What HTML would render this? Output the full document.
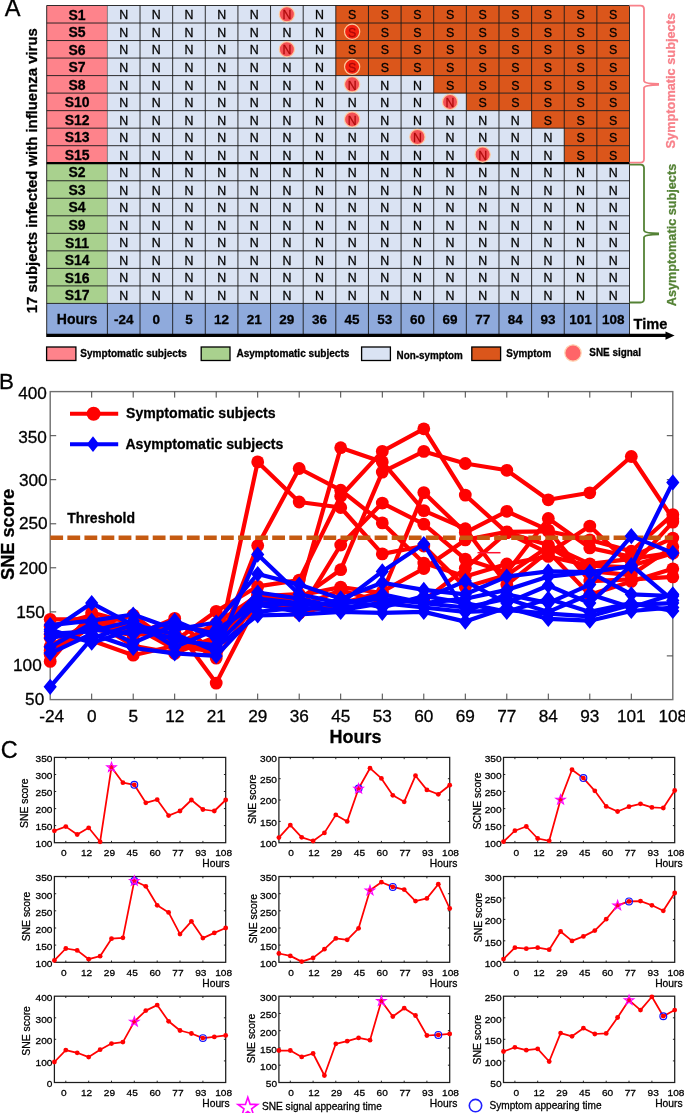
<!DOCTYPE html>
<html><head><meta charset="utf-8"><title>Figure</title>
<style>html,body{margin:0;padding:0;background:#fff}svg{display:block;will-change:transform;opacity:0.9999}text{font-family:"Liberation Sans",sans-serif;fill:#000;stroke:#000;stroke-width:0.28px}</style>
</head><body>
<svg width="685" height="1113" viewBox="0 0 685 1113">
<rect width="685" height="1113" fill="#fff"/>
<g id="panelA"><rect x="46.7" y="5.5" width="60.70" height="157.72" fill="#FE838B"/>
<rect x="46.7" y="163.22" width="60.70" height="140.20" fill="#A9D18E"/>
<rect x="107.4" y="5.5" width="522.10" height="297.92" fill="#DAE3F3"/>
<rect x="46.7" y="303.4" width="582.80" height="30.60" fill="#8FAADC"/>
<rect x="335.82" y="5.50" width="293.68" height="17.52" fill="#DB561B"/>
<rect x="335.82" y="23.02" width="293.68" height="17.52" fill="#DB561B"/>
<rect x="335.82" y="40.55" width="293.68" height="17.52" fill="#DB561B"/>
<rect x="335.82" y="58.07" width="293.68" height="17.52" fill="#DB561B"/>
<rect x="433.71" y="75.60" width="195.79" height="17.52" fill="#DB561B"/>
<rect x="466.34" y="93.12" width="163.16" height="17.52" fill="#DB561B"/>
<rect x="531.61" y="110.65" width="97.89" height="17.52" fill="#DB561B"/>
<rect x="564.24" y="128.17" width="65.26" height="17.52" fill="#DB561B"/>
<rect x="564.24" y="145.70" width="65.26" height="17.52" fill="#DB561B"/>
<path d="M46.7 5.50H629.5 M46.7 23.02H629.5 M46.7 40.55H629.5 M46.7 58.07H629.5 M46.7 75.60H629.5 M46.7 93.12H629.5 M46.7 110.65H629.5 M46.7 128.17H629.5 M46.7 145.70H629.5 M46.7 163.22H629.5 M46.7 180.75H629.5 M46.7 198.27H629.5 M46.7 215.80H629.5 M46.7 233.32H629.5 M46.7 250.85H629.5 M46.7 268.38H629.5 M46.7 285.90H629.5 M46.7 303.42H629.5 M107.40 303.4V334.0 M46.70 5.5V334.0 M140.03 5.5V334.0 M172.66 5.5V334.0 M205.29 5.5V334.0 M237.93 5.5V334.0 M270.56 5.5V334.0 M303.19 5.5V334.0 M335.82 5.5V334.0 M368.45 5.5V334.0 M401.08 5.5V334.0 M433.71 5.5V334.0 M466.34 5.5V334.0 M498.98 5.5V334.0 M531.61 5.5V334.0 M564.24 5.5V334.0 M596.87 5.5V334.0 M629.50 5.5V334.0" stroke="#1a1a1a" stroke-width="0.9" fill="none"/>
<path d="M107.40 5.5V303.4" stroke="#333" stroke-width="0.55" fill="none"/>
<path d="M46.7 163.22H629.5" stroke="#000" stroke-width="2.2"/>
<text x="77.1" y="19.70" font-size="14" font-weight="bold" text-anchor="middle">S1</text>
<text x="77.1" y="37.22" font-size="14" font-weight="bold" text-anchor="middle">S5</text>
<text x="77.1" y="54.75" font-size="14" font-weight="bold" text-anchor="middle">S6</text>
<text x="77.1" y="72.27" font-size="14" font-weight="bold" text-anchor="middle">S7</text>
<text x="77.1" y="89.80" font-size="14" font-weight="bold" text-anchor="middle">S8</text>
<text x="77.1" y="107.33" font-size="14" font-weight="bold" text-anchor="middle">S10</text>
<text x="77.1" y="124.85" font-size="14" font-weight="bold" text-anchor="middle">S12</text>
<text x="77.1" y="142.37" font-size="14" font-weight="bold" text-anchor="middle">S13</text>
<text x="77.1" y="159.90" font-size="14" font-weight="bold" text-anchor="middle">S15</text>
<text x="77.1" y="177.42" font-size="14" font-weight="bold" text-anchor="middle">S2</text>
<text x="77.1" y="194.95" font-size="14" font-weight="bold" text-anchor="middle">S3</text>
<text x="77.1" y="212.47" font-size="14" font-weight="bold" text-anchor="middle">S4</text>
<text x="77.1" y="230.00" font-size="14" font-weight="bold" text-anchor="middle">S9</text>
<text x="77.1" y="247.52" font-size="14" font-weight="bold" text-anchor="middle">S11</text>
<text x="77.1" y="265.05" font-size="14" font-weight="bold" text-anchor="middle">S14</text>
<text x="77.1" y="282.57" font-size="14" font-weight="bold" text-anchor="middle">S16</text>
<text x="77.1" y="300.10" font-size="14" font-weight="bold" text-anchor="middle">S17</text>
<text x="123.72" y="19.40" font-size="12.4" text-anchor="middle">N</text>
<text x="156.35" y="19.40" font-size="12.4" text-anchor="middle">N</text>
<text x="188.98" y="19.40" font-size="12.4" text-anchor="middle">N</text>
<text x="221.61" y="19.40" font-size="12.4" text-anchor="middle">N</text>
<text x="254.24" y="19.40" font-size="12.4" text-anchor="middle">N</text>
<text x="286.87" y="19.40" font-size="12.4" text-anchor="middle">N</text>
<text x="319.50" y="19.40" font-size="12.4" text-anchor="middle">N</text>
<text x="352.13" y="19.40" font-size="12.4" text-anchor="middle">S</text>
<text x="384.77" y="19.40" font-size="12.4" text-anchor="middle">S</text>
<text x="417.40" y="19.40" font-size="12.4" text-anchor="middle">S</text>
<text x="450.03" y="19.40" font-size="12.4" text-anchor="middle">S</text>
<text x="482.66" y="19.40" font-size="12.4" text-anchor="middle">S</text>
<text x="515.29" y="19.40" font-size="12.4" text-anchor="middle">S</text>
<text x="547.92" y="19.40" font-size="12.4" text-anchor="middle">S</text>
<text x="580.55" y="19.40" font-size="12.4" text-anchor="middle">S</text>
<text x="613.18" y="19.40" font-size="12.4" text-anchor="middle">S</text>
<text x="123.72" y="36.92" font-size="12.4" text-anchor="middle">N</text>
<text x="156.35" y="36.92" font-size="12.4" text-anchor="middle">N</text>
<text x="188.98" y="36.92" font-size="12.4" text-anchor="middle">N</text>
<text x="221.61" y="36.92" font-size="12.4" text-anchor="middle">N</text>
<text x="254.24" y="36.92" font-size="12.4" text-anchor="middle">N</text>
<text x="286.87" y="36.92" font-size="12.4" text-anchor="middle">N</text>
<text x="319.50" y="36.92" font-size="12.4" text-anchor="middle">N</text>
<text x="352.13" y="36.92" font-size="12.4" text-anchor="middle">S</text>
<text x="384.77" y="36.92" font-size="12.4" text-anchor="middle">S</text>
<text x="417.40" y="36.92" font-size="12.4" text-anchor="middle">S</text>
<text x="450.03" y="36.92" font-size="12.4" text-anchor="middle">S</text>
<text x="482.66" y="36.92" font-size="12.4" text-anchor="middle">S</text>
<text x="515.29" y="36.92" font-size="12.4" text-anchor="middle">S</text>
<text x="547.92" y="36.92" font-size="12.4" text-anchor="middle">S</text>
<text x="580.55" y="36.92" font-size="12.4" text-anchor="middle">S</text>
<text x="613.18" y="36.92" font-size="12.4" text-anchor="middle">S</text>
<text x="123.72" y="54.45" font-size="12.4" text-anchor="middle">N</text>
<text x="156.35" y="54.45" font-size="12.4" text-anchor="middle">N</text>
<text x="188.98" y="54.45" font-size="12.4" text-anchor="middle">N</text>
<text x="221.61" y="54.45" font-size="12.4" text-anchor="middle">N</text>
<text x="254.24" y="54.45" font-size="12.4" text-anchor="middle">N</text>
<text x="286.87" y="54.45" font-size="12.4" text-anchor="middle">N</text>
<text x="319.50" y="54.45" font-size="12.4" text-anchor="middle">N</text>
<text x="352.13" y="54.45" font-size="12.4" text-anchor="middle">S</text>
<text x="384.77" y="54.45" font-size="12.4" text-anchor="middle">S</text>
<text x="417.40" y="54.45" font-size="12.4" text-anchor="middle">S</text>
<text x="450.03" y="54.45" font-size="12.4" text-anchor="middle">S</text>
<text x="482.66" y="54.45" font-size="12.4" text-anchor="middle">S</text>
<text x="515.29" y="54.45" font-size="12.4" text-anchor="middle">S</text>
<text x="547.92" y="54.45" font-size="12.4" text-anchor="middle">S</text>
<text x="580.55" y="54.45" font-size="12.4" text-anchor="middle">S</text>
<text x="613.18" y="54.45" font-size="12.4" text-anchor="middle">S</text>
<text x="123.72" y="71.97" font-size="12.4" text-anchor="middle">N</text>
<text x="156.35" y="71.97" font-size="12.4" text-anchor="middle">N</text>
<text x="188.98" y="71.97" font-size="12.4" text-anchor="middle">N</text>
<text x="221.61" y="71.97" font-size="12.4" text-anchor="middle">N</text>
<text x="254.24" y="71.97" font-size="12.4" text-anchor="middle">N</text>
<text x="286.87" y="71.97" font-size="12.4" text-anchor="middle">N</text>
<text x="319.50" y="71.97" font-size="12.4" text-anchor="middle">N</text>
<text x="352.13" y="71.97" font-size="12.4" text-anchor="middle">S</text>
<text x="384.77" y="71.97" font-size="12.4" text-anchor="middle">S</text>
<text x="417.40" y="71.97" font-size="12.4" text-anchor="middle">S</text>
<text x="450.03" y="71.97" font-size="12.4" text-anchor="middle">S</text>
<text x="482.66" y="71.97" font-size="12.4" text-anchor="middle">S</text>
<text x="515.29" y="71.97" font-size="12.4" text-anchor="middle">S</text>
<text x="547.92" y="71.97" font-size="12.4" text-anchor="middle">S</text>
<text x="580.55" y="71.97" font-size="12.4" text-anchor="middle">S</text>
<text x="613.18" y="71.97" font-size="12.4" text-anchor="middle">S</text>
<text x="123.72" y="89.50" font-size="12.4" text-anchor="middle">N</text>
<text x="156.35" y="89.50" font-size="12.4" text-anchor="middle">N</text>
<text x="188.98" y="89.50" font-size="12.4" text-anchor="middle">N</text>
<text x="221.61" y="89.50" font-size="12.4" text-anchor="middle">N</text>
<text x="254.24" y="89.50" font-size="12.4" text-anchor="middle">N</text>
<text x="286.87" y="89.50" font-size="12.4" text-anchor="middle">N</text>
<text x="319.50" y="89.50" font-size="12.4" text-anchor="middle">N</text>
<text x="352.13" y="89.50" font-size="12.4" text-anchor="middle">N</text>
<text x="384.77" y="89.50" font-size="12.4" text-anchor="middle">N</text>
<text x="417.40" y="89.50" font-size="12.4" text-anchor="middle">N</text>
<text x="450.03" y="89.50" font-size="12.4" text-anchor="middle">S</text>
<text x="482.66" y="89.50" font-size="12.4" text-anchor="middle">S</text>
<text x="515.29" y="89.50" font-size="12.4" text-anchor="middle">S</text>
<text x="547.92" y="89.50" font-size="12.4" text-anchor="middle">S</text>
<text x="580.55" y="89.50" font-size="12.4" text-anchor="middle">S</text>
<text x="613.18" y="89.50" font-size="12.4" text-anchor="middle">S</text>
<text x="123.72" y="107.03" font-size="12.4" text-anchor="middle">N</text>
<text x="156.35" y="107.03" font-size="12.4" text-anchor="middle">N</text>
<text x="188.98" y="107.03" font-size="12.4" text-anchor="middle">N</text>
<text x="221.61" y="107.03" font-size="12.4" text-anchor="middle">N</text>
<text x="254.24" y="107.03" font-size="12.4" text-anchor="middle">N</text>
<text x="286.87" y="107.03" font-size="12.4" text-anchor="middle">N</text>
<text x="319.50" y="107.03" font-size="12.4" text-anchor="middle">N</text>
<text x="352.13" y="107.03" font-size="12.4" text-anchor="middle">N</text>
<text x="384.77" y="107.03" font-size="12.4" text-anchor="middle">N</text>
<text x="417.40" y="107.03" font-size="12.4" text-anchor="middle">N</text>
<text x="450.03" y="107.03" font-size="12.4" text-anchor="middle">N</text>
<text x="482.66" y="107.03" font-size="12.4" text-anchor="middle">S</text>
<text x="515.29" y="107.03" font-size="12.4" text-anchor="middle">S</text>
<text x="547.92" y="107.03" font-size="12.4" text-anchor="middle">S</text>
<text x="580.55" y="107.03" font-size="12.4" text-anchor="middle">S</text>
<text x="613.18" y="107.03" font-size="12.4" text-anchor="middle">S</text>
<text x="123.72" y="124.55" font-size="12.4" text-anchor="middle">N</text>
<text x="156.35" y="124.55" font-size="12.4" text-anchor="middle">N</text>
<text x="188.98" y="124.55" font-size="12.4" text-anchor="middle">N</text>
<text x="221.61" y="124.55" font-size="12.4" text-anchor="middle">N</text>
<text x="254.24" y="124.55" font-size="12.4" text-anchor="middle">N</text>
<text x="286.87" y="124.55" font-size="12.4" text-anchor="middle">N</text>
<text x="319.50" y="124.55" font-size="12.4" text-anchor="middle">N</text>
<text x="352.13" y="124.55" font-size="12.4" text-anchor="middle">N</text>
<text x="384.77" y="124.55" font-size="12.4" text-anchor="middle">N</text>
<text x="417.40" y="124.55" font-size="12.4" text-anchor="middle">N</text>
<text x="450.03" y="124.55" font-size="12.4" text-anchor="middle">N</text>
<text x="482.66" y="124.55" font-size="12.4" text-anchor="middle">N</text>
<text x="515.29" y="124.55" font-size="12.4" text-anchor="middle">N</text>
<text x="547.92" y="124.55" font-size="12.4" text-anchor="middle">S</text>
<text x="580.55" y="124.55" font-size="12.4" text-anchor="middle">S</text>
<text x="613.18" y="124.55" font-size="12.4" text-anchor="middle">S</text>
<text x="123.72" y="142.07" font-size="12.4" text-anchor="middle">N</text>
<text x="156.35" y="142.07" font-size="12.4" text-anchor="middle">N</text>
<text x="188.98" y="142.07" font-size="12.4" text-anchor="middle">N</text>
<text x="221.61" y="142.07" font-size="12.4" text-anchor="middle">N</text>
<text x="254.24" y="142.07" font-size="12.4" text-anchor="middle">N</text>
<text x="286.87" y="142.07" font-size="12.4" text-anchor="middle">N</text>
<text x="319.50" y="142.07" font-size="12.4" text-anchor="middle">N</text>
<text x="352.13" y="142.07" font-size="12.4" text-anchor="middle">N</text>
<text x="384.77" y="142.07" font-size="12.4" text-anchor="middle">N</text>
<text x="417.40" y="142.07" font-size="12.4" text-anchor="middle">N</text>
<text x="450.03" y="142.07" font-size="12.4" text-anchor="middle">N</text>
<text x="482.66" y="142.07" font-size="12.4" text-anchor="middle">N</text>
<text x="515.29" y="142.07" font-size="12.4" text-anchor="middle">N</text>
<text x="547.92" y="142.07" font-size="12.4" text-anchor="middle">N</text>
<text x="580.55" y="142.07" font-size="12.4" text-anchor="middle">S</text>
<text x="613.18" y="142.07" font-size="12.4" text-anchor="middle">S</text>
<text x="123.72" y="159.60" font-size="12.4" text-anchor="middle">N</text>
<text x="156.35" y="159.60" font-size="12.4" text-anchor="middle">N</text>
<text x="188.98" y="159.60" font-size="12.4" text-anchor="middle">N</text>
<text x="221.61" y="159.60" font-size="12.4" text-anchor="middle">N</text>
<text x="254.24" y="159.60" font-size="12.4" text-anchor="middle">N</text>
<text x="286.87" y="159.60" font-size="12.4" text-anchor="middle">N</text>
<text x="319.50" y="159.60" font-size="12.4" text-anchor="middle">N</text>
<text x="352.13" y="159.60" font-size="12.4" text-anchor="middle">N</text>
<text x="384.77" y="159.60" font-size="12.4" text-anchor="middle">N</text>
<text x="417.40" y="159.60" font-size="12.4" text-anchor="middle">N</text>
<text x="450.03" y="159.60" font-size="12.4" text-anchor="middle">N</text>
<text x="482.66" y="159.60" font-size="12.4" text-anchor="middle">N</text>
<text x="515.29" y="159.60" font-size="12.4" text-anchor="middle">N</text>
<text x="547.92" y="159.60" font-size="12.4" text-anchor="middle">N</text>
<text x="580.55" y="159.60" font-size="12.4" text-anchor="middle">S</text>
<text x="613.18" y="159.60" font-size="12.4" text-anchor="middle">S</text>
<text x="123.72" y="177.12" font-size="12.4" text-anchor="middle">N</text>
<text x="156.35" y="177.12" font-size="12.4" text-anchor="middle">N</text>
<text x="188.98" y="177.12" font-size="12.4" text-anchor="middle">N</text>
<text x="221.61" y="177.12" font-size="12.4" text-anchor="middle">N</text>
<text x="254.24" y="177.12" font-size="12.4" text-anchor="middle">N</text>
<text x="286.87" y="177.12" font-size="12.4" text-anchor="middle">N</text>
<text x="319.50" y="177.12" font-size="12.4" text-anchor="middle">N</text>
<text x="352.13" y="177.12" font-size="12.4" text-anchor="middle">N</text>
<text x="384.77" y="177.12" font-size="12.4" text-anchor="middle">N</text>
<text x="417.40" y="177.12" font-size="12.4" text-anchor="middle">N</text>
<text x="450.03" y="177.12" font-size="12.4" text-anchor="middle">N</text>
<text x="482.66" y="177.12" font-size="12.4" text-anchor="middle">N</text>
<text x="515.29" y="177.12" font-size="12.4" text-anchor="middle">N</text>
<text x="547.92" y="177.12" font-size="12.4" text-anchor="middle">N</text>
<text x="580.55" y="177.12" font-size="12.4" text-anchor="middle">N</text>
<text x="613.18" y="177.12" font-size="12.4" text-anchor="middle">N</text>
<text x="123.72" y="194.65" font-size="12.4" text-anchor="middle">N</text>
<text x="156.35" y="194.65" font-size="12.4" text-anchor="middle">N</text>
<text x="188.98" y="194.65" font-size="12.4" text-anchor="middle">N</text>
<text x="221.61" y="194.65" font-size="12.4" text-anchor="middle">N</text>
<text x="254.24" y="194.65" font-size="12.4" text-anchor="middle">N</text>
<text x="286.87" y="194.65" font-size="12.4" text-anchor="middle">N</text>
<text x="319.50" y="194.65" font-size="12.4" text-anchor="middle">N</text>
<text x="352.13" y="194.65" font-size="12.4" text-anchor="middle">N</text>
<text x="384.77" y="194.65" font-size="12.4" text-anchor="middle">N</text>
<text x="417.40" y="194.65" font-size="12.4" text-anchor="middle">N</text>
<text x="450.03" y="194.65" font-size="12.4" text-anchor="middle">N</text>
<text x="482.66" y="194.65" font-size="12.4" text-anchor="middle">N</text>
<text x="515.29" y="194.65" font-size="12.4" text-anchor="middle">N</text>
<text x="547.92" y="194.65" font-size="12.4" text-anchor="middle">N</text>
<text x="580.55" y="194.65" font-size="12.4" text-anchor="middle">N</text>
<text x="613.18" y="194.65" font-size="12.4" text-anchor="middle">N</text>
<text x="123.72" y="212.17" font-size="12.4" text-anchor="middle">N</text>
<text x="156.35" y="212.17" font-size="12.4" text-anchor="middle">N</text>
<text x="188.98" y="212.17" font-size="12.4" text-anchor="middle">N</text>
<text x="221.61" y="212.17" font-size="12.4" text-anchor="middle">N</text>
<text x="254.24" y="212.17" font-size="12.4" text-anchor="middle">N</text>
<text x="286.87" y="212.17" font-size="12.4" text-anchor="middle">N</text>
<text x="319.50" y="212.17" font-size="12.4" text-anchor="middle">N</text>
<text x="352.13" y="212.17" font-size="12.4" text-anchor="middle">N</text>
<text x="384.77" y="212.17" font-size="12.4" text-anchor="middle">N</text>
<text x="417.40" y="212.17" font-size="12.4" text-anchor="middle">N</text>
<text x="450.03" y="212.17" font-size="12.4" text-anchor="middle">N</text>
<text x="482.66" y="212.17" font-size="12.4" text-anchor="middle">N</text>
<text x="515.29" y="212.17" font-size="12.4" text-anchor="middle">N</text>
<text x="547.92" y="212.17" font-size="12.4" text-anchor="middle">N</text>
<text x="580.55" y="212.17" font-size="12.4" text-anchor="middle">N</text>
<text x="613.18" y="212.17" font-size="12.4" text-anchor="middle">N</text>
<text x="123.72" y="229.70" font-size="12.4" text-anchor="middle">N</text>
<text x="156.35" y="229.70" font-size="12.4" text-anchor="middle">N</text>
<text x="188.98" y="229.70" font-size="12.4" text-anchor="middle">N</text>
<text x="221.61" y="229.70" font-size="12.4" text-anchor="middle">N</text>
<text x="254.24" y="229.70" font-size="12.4" text-anchor="middle">N</text>
<text x="286.87" y="229.70" font-size="12.4" text-anchor="middle">N</text>
<text x="319.50" y="229.70" font-size="12.4" text-anchor="middle">N</text>
<text x="352.13" y="229.70" font-size="12.4" text-anchor="middle">N</text>
<text x="384.77" y="229.70" font-size="12.4" text-anchor="middle">N</text>
<text x="417.40" y="229.70" font-size="12.4" text-anchor="middle">N</text>
<text x="450.03" y="229.70" font-size="12.4" text-anchor="middle">N</text>
<text x="482.66" y="229.70" font-size="12.4" text-anchor="middle">N</text>
<text x="515.29" y="229.70" font-size="12.4" text-anchor="middle">N</text>
<text x="547.92" y="229.70" font-size="12.4" text-anchor="middle">N</text>
<text x="580.55" y="229.70" font-size="12.4" text-anchor="middle">N</text>
<text x="613.18" y="229.70" font-size="12.4" text-anchor="middle">N</text>
<text x="123.72" y="247.22" font-size="12.4" text-anchor="middle">N</text>
<text x="156.35" y="247.22" font-size="12.4" text-anchor="middle">N</text>
<text x="188.98" y="247.22" font-size="12.4" text-anchor="middle">N</text>
<text x="221.61" y="247.22" font-size="12.4" text-anchor="middle">N</text>
<text x="254.24" y="247.22" font-size="12.4" text-anchor="middle">N</text>
<text x="286.87" y="247.22" font-size="12.4" text-anchor="middle">N</text>
<text x="319.50" y="247.22" font-size="12.4" text-anchor="middle">N</text>
<text x="352.13" y="247.22" font-size="12.4" text-anchor="middle">N</text>
<text x="384.77" y="247.22" font-size="12.4" text-anchor="middle">N</text>
<text x="417.40" y="247.22" font-size="12.4" text-anchor="middle">N</text>
<text x="450.03" y="247.22" font-size="12.4" text-anchor="middle">N</text>
<text x="482.66" y="247.22" font-size="12.4" text-anchor="middle">N</text>
<text x="515.29" y="247.22" font-size="12.4" text-anchor="middle">N</text>
<text x="547.92" y="247.22" font-size="12.4" text-anchor="middle">N</text>
<text x="580.55" y="247.22" font-size="12.4" text-anchor="middle">N</text>
<text x="613.18" y="247.22" font-size="12.4" text-anchor="middle">N</text>
<text x="123.72" y="264.75" font-size="12.4" text-anchor="middle">N</text>
<text x="156.35" y="264.75" font-size="12.4" text-anchor="middle">N</text>
<text x="188.98" y="264.75" font-size="12.4" text-anchor="middle">N</text>
<text x="221.61" y="264.75" font-size="12.4" text-anchor="middle">N</text>
<text x="254.24" y="264.75" font-size="12.4" text-anchor="middle">N</text>
<text x="286.87" y="264.75" font-size="12.4" text-anchor="middle">N</text>
<text x="319.50" y="264.75" font-size="12.4" text-anchor="middle">N</text>
<text x="352.13" y="264.75" font-size="12.4" text-anchor="middle">N</text>
<text x="384.77" y="264.75" font-size="12.4" text-anchor="middle">N</text>
<text x="417.40" y="264.75" font-size="12.4" text-anchor="middle">N</text>
<text x="450.03" y="264.75" font-size="12.4" text-anchor="middle">N</text>
<text x="482.66" y="264.75" font-size="12.4" text-anchor="middle">N</text>
<text x="515.29" y="264.75" font-size="12.4" text-anchor="middle">N</text>
<text x="547.92" y="264.75" font-size="12.4" text-anchor="middle">N</text>
<text x="580.55" y="264.75" font-size="12.4" text-anchor="middle">N</text>
<text x="613.18" y="264.75" font-size="12.4" text-anchor="middle">N</text>
<text x="123.72" y="282.27" font-size="12.4" text-anchor="middle">N</text>
<text x="156.35" y="282.27" font-size="12.4" text-anchor="middle">N</text>
<text x="188.98" y="282.27" font-size="12.4" text-anchor="middle">N</text>
<text x="221.61" y="282.27" font-size="12.4" text-anchor="middle">N</text>
<text x="254.24" y="282.27" font-size="12.4" text-anchor="middle">N</text>
<text x="286.87" y="282.27" font-size="12.4" text-anchor="middle">N</text>
<text x="319.50" y="282.27" font-size="12.4" text-anchor="middle">N</text>
<text x="352.13" y="282.27" font-size="12.4" text-anchor="middle">N</text>
<text x="384.77" y="282.27" font-size="12.4" text-anchor="middle">N</text>
<text x="417.40" y="282.27" font-size="12.4" text-anchor="middle">N</text>
<text x="450.03" y="282.27" font-size="12.4" text-anchor="middle">N</text>
<text x="482.66" y="282.27" font-size="12.4" text-anchor="middle">N</text>
<text x="515.29" y="282.27" font-size="12.4" text-anchor="middle">N</text>
<text x="547.92" y="282.27" font-size="12.4" text-anchor="middle">N</text>
<text x="580.55" y="282.27" font-size="12.4" text-anchor="middle">N</text>
<text x="613.18" y="282.27" font-size="12.4" text-anchor="middle">N</text>
<text x="123.72" y="299.80" font-size="12.4" text-anchor="middle">N</text>
<text x="156.35" y="299.80" font-size="12.4" text-anchor="middle">N</text>
<text x="188.98" y="299.80" font-size="12.4" text-anchor="middle">N</text>
<text x="221.61" y="299.80" font-size="12.4" text-anchor="middle">N</text>
<text x="254.24" y="299.80" font-size="12.4" text-anchor="middle">N</text>
<text x="286.87" y="299.80" font-size="12.4" text-anchor="middle">N</text>
<text x="319.50" y="299.80" font-size="12.4" text-anchor="middle">N</text>
<text x="352.13" y="299.80" font-size="12.4" text-anchor="middle">N</text>
<text x="384.77" y="299.80" font-size="12.4" text-anchor="middle">N</text>
<text x="417.40" y="299.80" font-size="12.4" text-anchor="middle">N</text>
<text x="450.03" y="299.80" font-size="12.4" text-anchor="middle">N</text>
<text x="482.66" y="299.80" font-size="12.4" text-anchor="middle">N</text>
<text x="515.29" y="299.80" font-size="12.4" text-anchor="middle">N</text>
<text x="547.92" y="299.80" font-size="12.4" text-anchor="middle">N</text>
<text x="580.55" y="299.80" font-size="12.4" text-anchor="middle">N</text>
<text x="613.18" y="299.80" font-size="12.4" text-anchor="middle">N</text>
<circle cx="286.87" cy="14.26" r="7.6" fill="rgba(255,10,10,0.68)" stroke="rgba(255,205,160,0.95)" stroke-width="1.2"/>
<circle cx="352.13" cy="31.79" r="7.6" fill="rgba(255,10,10,0.68)" stroke="rgba(255,205,160,0.95)" stroke-width="1.2"/>
<circle cx="286.87" cy="49.31" r="7.6" fill="rgba(255,10,10,0.68)" stroke="rgba(255,205,160,0.95)" stroke-width="1.2"/>
<circle cx="352.13" cy="66.84" r="7.6" fill="rgba(255,10,10,0.68)" stroke="rgba(255,205,160,0.95)" stroke-width="1.2"/>
<circle cx="352.13" cy="84.36" r="7.6" fill="rgba(255,10,10,0.68)" stroke="rgba(255,205,160,0.95)" stroke-width="1.2"/>
<circle cx="450.03" cy="101.89" r="7.6" fill="rgba(255,10,10,0.68)" stroke="rgba(255,205,160,0.95)" stroke-width="1.2"/>
<circle cx="352.13" cy="119.41" r="7.6" fill="rgba(255,10,10,0.68)" stroke="rgba(255,205,160,0.95)" stroke-width="1.2"/>
<circle cx="417.40" cy="136.94" r="7.6" fill="rgba(255,10,10,0.68)" stroke="rgba(255,205,160,0.95)" stroke-width="1.2"/>
<circle cx="482.66" cy="154.46" r="7.6" fill="rgba(255,10,10,0.68)" stroke="rgba(255,205,160,0.95)" stroke-width="1.2"/>
<text x="77.1" y="323.8" font-size="14" font-weight="bold" text-anchor="middle">Hours</text>
<text x="123.72" y="323.6" font-size="13.5" font-weight="bold" text-anchor="middle">-24</text>
<text x="156.35" y="323.6" font-size="13.5" font-weight="bold" text-anchor="middle">0</text>
<text x="188.98" y="323.6" font-size="13.5" font-weight="bold" text-anchor="middle">5</text>
<text x="221.61" y="323.6" font-size="13.5" font-weight="bold" text-anchor="middle">12</text>
<text x="254.24" y="323.6" font-size="13.5" font-weight="bold" text-anchor="middle">21</text>
<text x="286.87" y="323.6" font-size="13.5" font-weight="bold" text-anchor="middle">29</text>
<text x="319.50" y="323.6" font-size="13.5" font-weight="bold" text-anchor="middle">36</text>
<text x="352.13" y="323.6" font-size="13.5" font-weight="bold" text-anchor="middle">45</text>
<text x="384.77" y="323.6" font-size="13.5" font-weight="bold" text-anchor="middle">53</text>
<text x="417.40" y="323.6" font-size="13.5" font-weight="bold" text-anchor="middle">60</text>
<text x="450.03" y="323.6" font-size="13.5" font-weight="bold" text-anchor="middle">69</text>
<text x="482.66" y="323.6" font-size="13.5" font-weight="bold" text-anchor="middle">77</text>
<text x="515.29" y="323.6" font-size="13.5" font-weight="bold" text-anchor="middle">84</text>
<text x="547.92" y="323.6" font-size="13.5" font-weight="bold" text-anchor="middle">93</text>
<text x="580.55" y="323.6" font-size="13.5" font-weight="bold" text-anchor="middle">101</text>
<text x="613.18" y="323.6" font-size="13.5" font-weight="bold" text-anchor="middle">108</text>
<path d="M46.2 335.4H668" stroke="#000" stroke-width="3.2"/>
<path d="M665.5 331.4L674.6 335.5L665.5 339.8Z" fill="#000"/>
<text x="633.6" y="329.2" font-size="14.6" font-weight="bold">Time</text>
<text transform="translate(37.1 313.2) rotate(-90)" font-size="15" font-weight="bold" textLength="285" lengthAdjust="spacingAndGlyphs">17 subjects infected with influenza virus</text>
<path d="M629.5 5.6H640.5Q644 5.6 644 9.1V80.9Q644.3 83.8 659 84.0M659 84.8Q644.3 85.0 644 87.9V159.1Q644 162.6 640.5 162.6H629.5" fill="none" stroke="#F8818A" stroke-width="1.8"/>
<path d="M629.5 164.6H640.5Q644 164.6 644 168.1V230.4Q644.3 233.3 659 233.5M659 234.3Q644.3 234.5 644 237.4V299.0Q644 302.5 640.5 302.5H629.5" fill="none" stroke="#548235" stroke-width="1.8"/>
<text transform="translate(674.5 148.4) rotate(-90)" font-size="13.5" font-weight="bold" style="fill:#F8818A;stroke:#F8818A" textLength="135.4" lengthAdjust="spacingAndGlyphs">Symptomatic subjects</text>
<text transform="translate(676.1 306.2) rotate(-90)" font-size="13" font-weight="bold" style="fill:#548235;stroke:#548235" textLength="142.4" lengthAdjust="spacingAndGlyphs">Asymptomatic subjects</text>
<rect x="46.6" y="347" width="29.3" height="13.5" fill="#FE838B" stroke="#000" stroke-width="1.3"/>
<rect x="201.2" y="347" width="28.8" height="13.5" fill="#A9D18E" stroke="#000" stroke-width="1.3"/>
<rect x="361.6" y="347" width="28.8" height="13.5" fill="#DAE3F3" stroke="#000" stroke-width="1.3"/>
<rect x="471.8" y="347" width="28.8" height="13.5" fill="#DB561B" stroke="#000" stroke-width="1.3"/>
<text x="80.3" y="357.4" font-size="10" font-weight="bold" textLength="106.6" lengthAdjust="spacingAndGlyphs">Symptomatic subjects</text>
<text x="236.4" y="357.4" font-size="10" font-weight="bold" textLength="113" lengthAdjust="spacingAndGlyphs">Asymptomatic subjects</text>
<text x="396.6" y="358.6" font-size="10" font-weight="bold" textLength="66.2" lengthAdjust="spacingAndGlyphs">Non-symptom</text>
<text x="506.3" y="357.4" font-size="10" font-weight="bold" textLength="45" lengthAdjust="spacingAndGlyphs">Symptom</text>
<text x="589.3" y="356.2" font-size="10" font-weight="bold" textLength="51.8" lengthAdjust="spacingAndGlyphs">SNE signal</text>
<circle cx="573" cy="353" r="8.2" fill="#FF6568" stroke="#FFD2B0" stroke-width="1.2"/>
<text x="4.8" y="16.4" font-size="23.6">A</text></g>
<g id="panelB"><rect x="50.2" y="391.6" width="622.6" height="308.0" fill="#fff" stroke="#6e6e6e" stroke-width="1.4"/>
<path d="M91.7 699.6v-6M91.7 391.6v6 M133.2 699.6v-6M133.2 391.6v6 M174.7 699.6v-6M174.7 391.6v6 M216.2 699.6v-6M216.2 391.6v6 M257.7 699.6v-6M257.7 391.6v6 M299.2 699.6v-6M299.2 391.6v6 M340.7 699.6v-6M340.7 391.6v6 M382.3 699.6v-6M382.3 391.6v6 M423.8 699.6v-6M423.8 391.6v6 M465.3 699.6v-6M465.3 391.6v6 M506.8 699.6v-6M506.8 391.6v6 M548.3 699.6v-6M548.3 391.6v6 M589.8 699.6v-6M589.8 391.6v6 M631.3 699.6v-6M631.3 391.6v6 M50.2 435.7h6M672.8 435.7h-6 M50.2 479.7h6M672.8 479.7h-6 M50.2 523.8h6M672.8 523.8h-6 M50.2 567.8h6M672.8 567.8h-6 M50.2 611.9h6M672.8 611.9h-6 M50.2 655.9h6M672.8 655.9h-6" stroke="#444" stroke-width="1"/>
<text transform="translate(46.9 398.5) scale(1.05 1)" font-size="16.4" text-anchor="end">400</text>
<text transform="translate(46.9 443.3) scale(1.05 1)" font-size="16.4" text-anchor="end">350</text>
<text transform="translate(47.6 485.8) scale(1.05 1)" font-size="16.4" text-anchor="end">300</text>
<text transform="translate(47.6 529.0) scale(1.05 1)" font-size="16.4" text-anchor="end">250</text>
<text transform="translate(47.6 574.0) scale(1.05 1)" font-size="16.4" text-anchor="end">200</text>
<text transform="translate(44.9 618.4) scale(1.05 1)" font-size="16.4" text-anchor="end">150</text>
<text transform="translate(41.7 670.7) scale(1.05 1)" font-size="16.4" text-anchor="end">100</text>
<text transform="translate(44.2 705.3) scale(1.05 1)" font-size="16.4" text-anchor="end">50</text>
<text transform="translate(51.7 721.6) scale(1.05 1)" font-size="16.4" text-anchor="middle">-24</text>
<text transform="translate(91.7 721.6) scale(1.05 1)" font-size="16.4" text-anchor="middle">0</text>
<text transform="translate(133.2 721.6) scale(1.05 1)" font-size="16.4" text-anchor="middle">5</text>
<text transform="translate(174.7 721.6) scale(1.05 1)" font-size="16.4" text-anchor="middle">12</text>
<text transform="translate(216.2 721.6) scale(1.05 1)" font-size="16.4" text-anchor="middle">21</text>
<text transform="translate(257.7 721.6) scale(1.05 1)" font-size="16.4" text-anchor="middle">29</text>
<text transform="translate(299.2 721.6) scale(1.05 1)" font-size="16.4" text-anchor="middle">36</text>
<text transform="translate(340.7 721.6) scale(1.05 1)" font-size="16.4" text-anchor="middle">45</text>
<text transform="translate(382.3 721.6) scale(1.05 1)" font-size="16.4" text-anchor="middle">53</text>
<text transform="translate(423.8 721.6) scale(1.05 1)" font-size="16.4" text-anchor="middle">60</text>
<text transform="translate(465.3 721.6) scale(1.05 1)" font-size="16.4" text-anchor="middle">69</text>
<text transform="translate(506.8 721.6) scale(1.05 1)" font-size="16.4" text-anchor="middle">77</text>
<text transform="translate(548.3 721.6) scale(1.05 1)" font-size="16.4" text-anchor="middle">84</text>
<text transform="translate(589.8 721.6) scale(1.05 1)" font-size="16.4" text-anchor="middle">93</text>
<text transform="translate(631.3 721.6) scale(1.05 1)" font-size="16.4" text-anchor="middle">101</text>
<text transform="translate(672.8 721.6) scale(1.05 1)" font-size="16.4" text-anchor="middle">108</text>
<text x="355.5" y="742.6" font-size="18" font-weight="bold" text-anchor="middle">Hours</text>
<text transform="translate(14.4 580) rotate(-90)" font-size="18.4" font-weight="bold" textLength="91" lengthAdjust="spacingAndGlyphs">SNE score</text>
<text x="-0.9" y="388.9" font-size="22.4">B</text>
<defs><clipPath id="bclip"><rect x="40" y="385" width="645" height="325"/></clipPath></defs>
<g><polyline points="50.2,626.3 91.7,615.3 133.2,635.7 174.7,618.4 216.2,654.6 257.7,461.9 299.2,502.0 340.7,507.5 382.3,553.9 423.8,546.0 465.3,586.9 506.8,575.1 548.3,546.8 589.8,571.2 631.3,575.1 672.8,546.8" fill="none" stroke="#FF0000" stroke-width="4.2" stroke-linejoin="round"/><circle cx="50.2" cy="626.3" r="6.4" fill="#FF0000"/><circle cx="91.7" cy="615.3" r="6.4" fill="#FF0000"/><circle cx="133.2" cy="635.7" r="6.4" fill="#FF0000"/><circle cx="174.7" cy="618.4" r="6.4" fill="#FF0000"/><circle cx="216.2" cy="654.6" r="6.4" fill="#FF0000"/><circle cx="257.7" cy="461.9" r="6.4" fill="#FF0000"/><circle cx="299.2" cy="502.0" r="6.4" fill="#FF0000"/><circle cx="340.7" cy="507.5" r="6.4" fill="#FF0000"/><circle cx="382.3" cy="553.9" r="6.4" fill="#FF0000"/><circle cx="423.8" cy="546.0" r="6.4" fill="#FF0000"/><circle cx="465.3" cy="586.9" r="6.4" fill="#FF0000"/><circle cx="506.8" cy="575.1" r="6.4" fill="#FF0000"/><circle cx="548.3" cy="546.8" r="6.4" fill="#FF0000"/><circle cx="589.8" cy="571.2" r="6.4" fill="#FF0000"/><circle cx="631.3" cy="575.1" r="6.4" fill="#FF0000"/><circle cx="672.8" cy="546.8" r="6.4" fill="#FF0000"/><polyline points="50.2,646.5 91.7,620.6 133.2,645.8 174.7,653.4 216.2,636.7 257.7,599.6 299.2,612.9 340.7,545.0 382.3,503.1 423.8,524.1 465.3,559.1 506.8,572.4 548.3,518.5 589.8,547.9 631.3,556.9 672.8,538.1" fill="none" stroke="#FF0000" stroke-width="4.2" stroke-linejoin="round"/><circle cx="50.2" cy="646.5" r="6.4" fill="#FF0000"/><circle cx="91.7" cy="620.6" r="6.4" fill="#FF0000"/><circle cx="133.2" cy="645.8" r="6.4" fill="#FF0000"/><circle cx="174.7" cy="653.4" r="6.4" fill="#FF0000"/><circle cx="216.2" cy="636.7" r="6.4" fill="#FF0000"/><circle cx="257.7" cy="599.6" r="6.4" fill="#FF0000"/><circle cx="299.2" cy="612.9" r="6.4" fill="#FF0000"/><circle cx="340.7" cy="545.0" r="6.4" fill="#FF0000"/><circle cx="382.3" cy="503.1" r="6.4" fill="#FF0000"/><circle cx="423.8" cy="524.1" r="6.4" fill="#FF0000"/><circle cx="465.3" cy="559.1" r="6.4" fill="#FF0000"/><circle cx="506.8" cy="572.4" r="6.4" fill="#FF0000"/><circle cx="548.3" cy="518.5" r="6.4" fill="#FF0000"/><circle cx="589.8" cy="547.9" r="6.4" fill="#FF0000"/><circle cx="631.3" cy="556.9" r="6.4" fill="#FF0000"/><circle cx="672.8" cy="538.1" r="6.4" fill="#FF0000"/><polyline points="50.2,654.4 91.7,625.9 133.2,615.1 174.7,646.0 216.2,651.9 257.7,545.6 299.2,468.5 340.7,490.2 382.3,522.9 423.8,563.1 465.3,576.5 506.8,564.0 548.3,556.4 589.8,565.7 631.3,567.3 672.8,522.1" fill="none" stroke="#FF0000" stroke-width="4.2" stroke-linejoin="round"/><circle cx="50.2" cy="654.4" r="6.4" fill="#FF0000"/><circle cx="91.7" cy="625.9" r="6.4" fill="#FF0000"/><circle cx="133.2" cy="615.1" r="6.4" fill="#FF0000"/><circle cx="174.7" cy="646.0" r="6.4" fill="#FF0000"/><circle cx="216.2" cy="651.9" r="6.4" fill="#FF0000"/><circle cx="257.7" cy="545.6" r="6.4" fill="#FF0000"/><circle cx="299.2" cy="468.5" r="6.4" fill="#FF0000"/><circle cx="340.7" cy="490.2" r="6.4" fill="#FF0000"/><circle cx="382.3" cy="522.9" r="6.4" fill="#FF0000"/><circle cx="423.8" cy="563.1" r="6.4" fill="#FF0000"/><circle cx="465.3" cy="576.5" r="6.4" fill="#FF0000"/><circle cx="506.8" cy="564.0" r="6.4" fill="#FF0000"/><circle cx="548.3" cy="556.4" r="6.4" fill="#FF0000"/><circle cx="589.8" cy="565.7" r="6.4" fill="#FF0000"/><circle cx="631.3" cy="567.3" r="6.4" fill="#FF0000"/><circle cx="672.8" cy="522.1" r="6.4" fill="#FF0000"/><polyline points="50.2,652.2 91.7,621.5 133.2,626.3 174.7,649.1 216.2,641.2 257.7,596.4 299.2,594.0 340.7,447.7 382.3,461.9 423.8,510.6 465.3,528.7 506.8,584.6 548.3,551.6 589.8,594.8 631.3,581.4 672.8,568.8" fill="none" stroke="#FF0000" stroke-width="4.2" stroke-linejoin="round"/><circle cx="50.2" cy="652.2" r="6.4" fill="#FF0000"/><circle cx="91.7" cy="621.5" r="6.4" fill="#FF0000"/><circle cx="133.2" cy="626.3" r="6.4" fill="#FF0000"/><circle cx="174.7" cy="649.1" r="6.4" fill="#FF0000"/><circle cx="216.2" cy="641.2" r="6.4" fill="#FF0000"/><circle cx="257.7" cy="596.4" r="6.4" fill="#FF0000"/><circle cx="299.2" cy="594.0" r="6.4" fill="#FF0000"/><circle cx="340.7" cy="447.7" r="6.4" fill="#FF0000"/><circle cx="382.3" cy="461.9" r="6.4" fill="#FF0000"/><circle cx="423.8" cy="510.6" r="6.4" fill="#FF0000"/><circle cx="465.3" cy="528.7" r="6.4" fill="#FF0000"/><circle cx="506.8" cy="584.6" r="6.4" fill="#FF0000"/><circle cx="548.3" cy="551.6" r="6.4" fill="#FF0000"/><circle cx="589.8" cy="594.8" r="6.4" fill="#FF0000"/><circle cx="631.3" cy="581.4" r="6.4" fill="#FF0000"/><circle cx="672.8" cy="568.8" r="6.4" fill="#FF0000"/><polyline points="50.2,634.5 91.7,640.6 133.2,655.2 174.7,645.8 216.2,623.3 257.7,595.6 299.2,599.1 340.7,569.7 382.3,472.1 423.8,451.4 465.3,463.5 506.8,470.3 548.3,499.8 589.8,492.8 631.3,456.5 672.8,518.7" fill="none" stroke="#FF0000" stroke-width="4.2" stroke-linejoin="round"/><circle cx="50.2" cy="634.5" r="6.4" fill="#FF0000"/><circle cx="91.7" cy="640.6" r="6.4" fill="#FF0000"/><circle cx="133.2" cy="655.2" r="6.4" fill="#FF0000"/><circle cx="174.7" cy="645.8" r="6.4" fill="#FF0000"/><circle cx="216.2" cy="623.3" r="6.4" fill="#FF0000"/><circle cx="257.7" cy="595.6" r="6.4" fill="#FF0000"/><circle cx="299.2" cy="599.1" r="6.4" fill="#FF0000"/><circle cx="340.7" cy="569.7" r="6.4" fill="#FF0000"/><circle cx="382.3" cy="472.1" r="6.4" fill="#FF0000"/><circle cx="423.8" cy="451.4" r="6.4" fill="#FF0000"/><circle cx="465.3" cy="463.5" r="6.4" fill="#FF0000"/><circle cx="506.8" cy="470.3" r="6.4" fill="#FF0000"/><circle cx="548.3" cy="499.8" r="6.4" fill="#FF0000"/><circle cx="589.8" cy="492.8" r="6.4" fill="#FF0000"/><circle cx="631.3" cy="456.5" r="6.4" fill="#FF0000"/><circle cx="672.8" cy="518.7" r="6.4" fill="#FF0000"/><polyline points="50.2,650.3 91.7,627.0 133.2,629.0 174.7,627.0 216.2,631.0 257.7,593.8 299.2,613.1 340.7,603.7 382.3,591.7 423.8,568.5 465.3,539.9 506.8,531.9 548.3,531.3 589.8,539.9 631.3,551.2 672.8,514.6" fill="none" stroke="#FF0000" stroke-width="4.2" stroke-linejoin="round"/><circle cx="50.2" cy="650.3" r="6.4" fill="#FF0000"/><circle cx="91.7" cy="627.0" r="6.4" fill="#FF0000"/><circle cx="133.2" cy="629.0" r="6.4" fill="#FF0000"/><circle cx="174.7" cy="627.0" r="6.4" fill="#FF0000"/><circle cx="216.2" cy="631.0" r="6.4" fill="#FF0000"/><circle cx="257.7" cy="593.8" r="6.4" fill="#FF0000"/><circle cx="299.2" cy="613.1" r="6.4" fill="#FF0000"/><circle cx="340.7" cy="603.7" r="6.4" fill="#FF0000"/><circle cx="382.3" cy="591.7" r="6.4" fill="#FF0000"/><circle cx="423.8" cy="568.5" r="6.4" fill="#FF0000"/><circle cx="465.3" cy="539.9" r="6.4" fill="#FF0000"/><circle cx="506.8" cy="531.9" r="6.4" fill="#FF0000"/><circle cx="548.3" cy="531.3" r="6.4" fill="#FF0000"/><circle cx="589.8" cy="539.9" r="6.4" fill="#FF0000"/><circle cx="631.3" cy="551.2" r="6.4" fill="#FF0000"/><circle cx="672.8" cy="514.6" r="6.4" fill="#FF0000"/><polyline points="50.2,661.4 91.7,612.5 133.2,623.8 174.7,641.3 216.2,611.3 257.7,586.4 299.2,580.1 340.7,496.3 382.3,451.4 423.8,428.8 465.3,495.1 506.8,532.6 548.3,545.0 589.8,563.8 631.3,558.9 672.8,552.6" fill="none" stroke="#FF0000" stroke-width="4.2" stroke-linejoin="round"/><circle cx="50.2" cy="661.4" r="6.4" fill="#FF0000"/><circle cx="91.7" cy="612.5" r="6.4" fill="#FF0000"/><circle cx="133.2" cy="623.8" r="6.4" fill="#FF0000"/><circle cx="174.7" cy="641.3" r="6.4" fill="#FF0000"/><circle cx="216.2" cy="611.3" r="6.4" fill="#FF0000"/><circle cx="257.7" cy="586.4" r="6.4" fill="#FF0000"/><circle cx="299.2" cy="580.1" r="6.4" fill="#FF0000"/><circle cx="340.7" cy="496.3" r="6.4" fill="#FF0000"/><circle cx="382.3" cy="451.4" r="6.4" fill="#FF0000"/><circle cx="423.8" cy="428.8" r="6.4" fill="#FF0000"/><circle cx="465.3" cy="495.1" r="6.4" fill="#FF0000"/><circle cx="506.8" cy="532.6" r="6.4" fill="#FF0000"/><circle cx="548.3" cy="545.0" r="6.4" fill="#FF0000"/><circle cx="589.8" cy="563.8" r="6.4" fill="#FF0000"/><circle cx="631.3" cy="558.9" r="6.4" fill="#FF0000"/><circle cx="672.8" cy="552.6" r="6.4" fill="#FF0000"/><polyline points="50.2,619.3 91.7,619.3 133.2,635.5 174.7,627.0 216.2,683.1 257.7,602.3 299.2,595.5 340.7,587.1 382.3,593.0 423.8,492.6 465.3,532.6 506.8,511.3 548.3,530.1 589.8,581.1 631.3,579.4 672.8,576.9" fill="none" stroke="#FF0000" stroke-width="4.2" stroke-linejoin="round"/><circle cx="50.2" cy="619.3" r="6.4" fill="#FF0000"/><circle cx="91.7" cy="619.3" r="6.4" fill="#FF0000"/><circle cx="133.2" cy="635.5" r="6.4" fill="#FF0000"/><circle cx="174.7" cy="627.0" r="6.4" fill="#FF0000"/><circle cx="216.2" cy="683.1" r="6.4" fill="#FF0000"/><circle cx="257.7" cy="602.3" r="6.4" fill="#FF0000"/><circle cx="299.2" cy="595.5" r="6.4" fill="#FF0000"/><circle cx="340.7" cy="587.1" r="6.4" fill="#FF0000"/><circle cx="382.3" cy="593.0" r="6.4" fill="#FF0000"/><circle cx="423.8" cy="492.6" r="6.4" fill="#FF0000"/><circle cx="465.3" cy="532.6" r="6.4" fill="#FF0000"/><circle cx="506.8" cy="511.3" r="6.4" fill="#FF0000"/><circle cx="548.3" cy="530.1" r="6.4" fill="#FF0000"/><circle cx="589.8" cy="581.1" r="6.4" fill="#FF0000"/><circle cx="631.3" cy="579.4" r="6.4" fill="#FF0000"/><circle cx="672.8" cy="576.9" r="6.4" fill="#FF0000"/><polyline points="50.2,637.6 91.7,629.1 133.2,635.0 174.7,632.4 216.2,658.1 257.7,600.0 299.2,606.6 340.7,590.2 382.3,602.0 423.8,600.6 465.3,568.3 506.8,532.7 548.3,553.2 589.8,526.1 631.3,565.7 672.8,553.2" fill="none" stroke="#FF0000" stroke-width="4.2" stroke-linejoin="round"/><circle cx="50.2" cy="637.6" r="6.4" fill="#FF0000"/><circle cx="91.7" cy="629.1" r="6.4" fill="#FF0000"/><circle cx="133.2" cy="635.0" r="6.4" fill="#FF0000"/><circle cx="174.7" cy="632.4" r="6.4" fill="#FF0000"/><circle cx="216.2" cy="658.1" r="6.4" fill="#FF0000"/><circle cx="257.7" cy="600.0" r="6.4" fill="#FF0000"/><circle cx="299.2" cy="606.6" r="6.4" fill="#FF0000"/><circle cx="340.7" cy="590.2" r="6.4" fill="#FF0000"/><circle cx="382.3" cy="602.0" r="6.4" fill="#FF0000"/><circle cx="423.8" cy="600.6" r="6.4" fill="#FF0000"/><circle cx="465.3" cy="568.3" r="6.4" fill="#FF0000"/><circle cx="506.8" cy="532.7" r="6.4" fill="#FF0000"/><circle cx="548.3" cy="553.2" r="6.4" fill="#FF0000"/><circle cx="589.8" cy="526.1" r="6.4" fill="#FF0000"/><circle cx="631.3" cy="565.7" r="6.4" fill="#FF0000"/><circle cx="672.8" cy="553.2" r="6.4" fill="#FF0000"/></g>
<path d="M50.300000000000004 537.7H672.8" stroke="#C55A11" stroke-width="4.4" stroke-dasharray="12.8 4.27"/>
<path d="M477.5 552.7H500.5" stroke="#FF1030" stroke-width="1.5"/>
<g><polyline points="50.2,686.8 91.7,638.3 133.2,625.1 174.7,640.1 216.2,645.4 257.7,603.1 299.2,604.8 340.7,603.1 382.3,598.7 423.8,603.1 465.3,598.7 506.8,589.9 548.3,576.6 589.8,572.2 631.3,566.1 672.8,482.4" fill="none" stroke="#0000FF" stroke-width="4.2" stroke-linejoin="round"/><path d="M50.2 678.7L56.8 686.8L50.2 694.9L43.6 686.8Z M91.7 630.2L98.3 638.3L91.7 646.4L85.1 638.3Z M133.2 617.0L139.8 625.1L133.2 633.2L126.6 625.1Z M174.7 632.0L181.3 640.1L174.7 648.2L168.1 640.1Z M216.2 637.3L222.8 645.4L216.2 653.5L209.6 645.4Z M257.7 595.0L264.3 603.1L257.7 611.2L251.1 603.1Z M299.2 596.7L305.8 604.8L299.2 612.9L292.6 604.8Z M340.7 595.0L347.3 603.1L340.7 611.2L334.1 603.1Z M382.3 590.6L388.9 598.7L382.3 606.8L375.7 598.7Z M423.8 595.0L430.4 603.1L423.8 611.2L417.2 603.1Z M465.3 590.6L471.9 598.7L465.3 606.8L458.7 598.7Z M506.8 581.8L513.4 589.9L506.8 598.0L500.2 589.9Z M548.3 568.5L554.9 576.6L548.3 584.7L541.7 576.6Z M589.8 564.1L596.4 572.2L589.8 580.3L583.2 572.2Z M631.3 558.0L637.9 566.1L631.3 574.2L624.7 566.1Z M672.8 474.3L679.4 482.4L672.8 490.5L666.2 482.4Z" fill="#0000FF"/><polyline points="50.2,631.3 91.7,603.1 133.2,625.1 174.7,633.9 216.2,651.5 257.7,554.6 299.2,594.3 340.7,603.1 382.3,571.4 423.8,544.0 465.3,611.9 506.8,594.3 548.3,603.1 589.8,584.6 631.3,536.1 672.8,552.9" fill="none" stroke="#0000FF" stroke-width="4.2" stroke-linejoin="round"/><path d="M50.2 623.2L56.8 631.3L50.2 639.4L43.6 631.3Z M91.7 595.0L98.3 603.1L91.7 611.2L85.1 603.1Z M133.2 617.0L139.8 625.1L133.2 633.2L126.6 625.1Z M174.7 625.8L181.3 633.9L174.7 642.0L168.1 633.9Z M216.2 643.4L222.8 651.5L216.2 659.6L209.6 651.5Z M257.7 546.5L264.3 554.6L257.7 562.7L251.1 554.6Z M299.2 586.2L305.8 594.3L299.2 602.4L292.6 594.3Z M340.7 595.0L347.3 603.1L340.7 611.2L334.1 603.1Z M382.3 563.3L388.9 571.4L382.3 579.5L375.7 571.4Z M423.8 535.9L430.4 544.0L423.8 552.1L417.2 544.0Z M465.3 603.8L471.9 611.9L465.3 620.0L458.7 611.9Z M506.8 586.2L513.4 594.3L506.8 602.4L500.2 594.3Z M548.3 595.0L554.9 603.1L548.3 611.2L541.7 603.1Z M589.8 576.5L596.4 584.6L589.8 592.7L583.2 584.6Z M631.3 528.0L637.9 536.1L631.3 544.2L624.7 536.1Z M672.8 544.8L679.4 552.9L672.8 561.0L666.2 552.9Z" fill="#0000FF"/><polyline points="50.2,625.1 91.7,620.7 133.2,614.5 174.7,629.5 216.2,622.5 257.7,574.0 299.2,584.6 340.7,598.7 382.3,582.8 423.8,589.9 465.3,594.3 506.8,576.6 548.3,571.4 589.8,572.2 631.3,594.3 672.8,596.0" fill="none" stroke="#0000FF" stroke-width="4.2" stroke-linejoin="round"/><path d="M50.2 617.0L56.8 625.1L50.2 633.2L43.6 625.1Z M91.7 612.6L98.3 620.7L91.7 628.8L85.1 620.7Z M133.2 606.4L139.8 614.5L133.2 622.6L126.6 614.5Z M174.7 621.4L181.3 629.5L174.7 637.6L168.1 629.5Z M216.2 614.4L222.8 622.5L216.2 630.6L209.6 622.5Z M257.7 565.9L264.3 574.0L257.7 582.1L251.1 574.0Z M299.2 576.5L305.8 584.6L299.2 592.7L292.6 584.6Z M340.7 590.6L347.3 598.7L340.7 606.8L334.1 598.7Z M382.3 574.7L388.9 582.8L382.3 590.9L375.7 582.8Z M423.8 581.8L430.4 589.9L423.8 598.0L417.2 589.9Z M465.3 586.2L471.9 594.3L465.3 602.4L458.7 594.3Z M506.8 568.5L513.4 576.6L506.8 584.7L500.2 576.6Z M548.3 563.3L554.9 571.4L548.3 579.5L541.7 571.4Z M589.8 564.1L596.4 572.2L589.8 580.3L583.2 572.2Z M631.3 586.2L637.9 594.3L631.3 602.4L624.7 594.3Z M672.8 587.9L679.4 596.0L672.8 604.1L666.2 596.0Z" fill="#0000FF"/><polyline points="50.2,638.3 91.7,629.5 133.2,633.9 174.7,620.7 216.2,638.3 257.7,592.5 299.2,598.7 340.7,607.5 382.3,603.1 423.8,598.7 465.3,581.1 506.8,603.1 548.3,585.5 589.8,603.1 631.3,565.2 672.8,600.4" fill="none" stroke="#0000FF" stroke-width="4.2" stroke-linejoin="round"/><path d="M50.2 630.2L56.8 638.3L50.2 646.4L43.6 638.3Z M91.7 621.4L98.3 629.5L91.7 637.6L85.1 629.5Z M133.2 625.8L139.8 633.9L133.2 642.0L126.6 633.9Z M174.7 612.6L181.3 620.7L174.7 628.8L168.1 620.7Z M216.2 630.2L222.8 638.3L216.2 646.4L209.6 638.3Z M257.7 584.4L264.3 592.5L257.7 600.6L251.1 592.5Z M299.2 590.6L305.8 598.7L299.2 606.8L292.6 598.7Z M340.7 599.4L347.3 607.5L340.7 615.6L334.1 607.5Z M382.3 595.0L388.9 603.1L382.3 611.2L375.7 603.1Z M423.8 590.6L430.4 598.7L423.8 606.8L417.2 598.7Z M465.3 573.0L471.9 581.1L465.3 589.2L458.7 581.1Z M506.8 595.0L513.4 603.1L506.8 611.2L500.2 603.1Z M548.3 577.4L554.9 585.5L548.3 593.6L541.7 585.5Z M589.8 595.0L596.4 603.1L589.8 611.2L583.2 603.1Z M631.3 557.1L637.9 565.2L631.3 573.3L624.7 565.2Z M672.8 592.3L679.4 600.4L672.8 608.5L666.2 600.4Z" fill="#0000FF"/><polyline points="50.2,647.1 91.7,623.3 133.2,642.7 174.7,625.1 216.2,633.9 257.7,598.7 299.2,603.1 340.7,604.8 382.3,594.3 423.8,603.1 465.3,607.5 506.8,598.7 548.3,611.9 589.8,594.3 631.3,607.5 672.8,594.3" fill="none" stroke="#0000FF" stroke-width="4.2" stroke-linejoin="round"/><path d="M50.2 639.0L56.8 647.1L50.2 655.2L43.6 647.1Z M91.7 615.2L98.3 623.3L91.7 631.4L85.1 623.3Z M133.2 634.6L139.8 642.7L133.2 650.8L126.6 642.7Z M174.7 617.0L181.3 625.1L174.7 633.2L168.1 625.1Z M216.2 625.8L222.8 633.9L216.2 642.0L209.6 633.9Z M257.7 590.6L264.3 598.7L257.7 606.8L251.1 598.7Z M299.2 595.0L305.8 603.1L299.2 611.2L292.6 603.1Z M340.7 596.7L347.3 604.8L340.7 612.9L334.1 604.8Z M382.3 586.2L388.9 594.3L382.3 602.4L375.7 594.3Z M423.8 595.0L430.4 603.1L423.8 611.2L417.2 603.1Z M465.3 599.4L471.9 607.5L465.3 615.6L458.7 607.5Z M506.8 590.6L513.4 598.7L506.8 606.8L500.2 598.7Z M548.3 603.8L554.9 611.9L548.3 620.0L541.7 611.9Z M589.8 586.2L596.4 594.3L589.8 602.4L583.2 594.3Z M631.3 599.4L637.9 607.5L631.3 615.6L624.7 607.5Z M672.8 586.2L679.4 594.3L672.8 602.4L666.2 594.3Z" fill="#0000FF"/><polyline points="50.2,633.9 91.7,631.3 133.2,620.7 174.7,647.1 216.2,629.5 257.7,604.8 299.2,611.9 340.7,598.7 382.3,607.5 423.8,596.0 465.3,603.1 506.8,611.9 548.3,598.7 589.8,611.9 631.3,603.1 672.8,611.0" fill="none" stroke="#0000FF" stroke-width="4.2" stroke-linejoin="round"/><path d="M50.2 625.8L56.8 633.9L50.2 642.0L43.6 633.9Z M91.7 623.2L98.3 631.3L91.7 639.4L85.1 631.3Z M133.2 612.6L139.8 620.7L133.2 628.8L126.6 620.7Z M174.7 639.0L181.3 647.1L174.7 655.2L168.1 647.1Z M216.2 621.4L222.8 629.5L216.2 637.6L209.6 629.5Z M257.7 596.7L264.3 604.8L257.7 612.9L251.1 604.8Z M299.2 603.8L305.8 611.9L299.2 620.0L292.6 611.9Z M340.7 590.6L347.3 598.7L340.7 606.8L334.1 598.7Z M382.3 599.4L388.9 607.5L382.3 615.6L375.7 607.5Z M423.8 587.9L430.4 596.0L423.8 604.1L417.2 596.0Z M465.3 595.0L471.9 603.1L465.3 611.2L458.7 603.1Z M506.8 603.8L513.4 611.9L506.8 620.0L500.2 611.9Z M548.3 590.6L554.9 598.7L548.3 606.8L541.7 598.7Z M589.8 603.8L596.4 611.9L589.8 620.0L583.2 611.9Z M631.3 595.0L637.9 603.1L631.3 611.2L624.7 603.1Z M672.8 602.9L679.4 611.0L672.8 619.1L666.2 611.0Z" fill="#0000FF"/><polyline points="50.2,629.5 91.7,642.7 133.2,629.5 174.7,638.3 216.2,647.1 257.7,615.4 299.2,614.5 340.7,611.9 382.3,612.8 423.8,611.9 465.3,621.6 506.8,607.5 548.3,618.9 589.8,620.7 631.3,611.0 672.8,607.5" fill="none" stroke="#0000FF" stroke-width="4.2" stroke-linejoin="round"/><path d="M50.2 621.4L56.8 629.5L50.2 637.6L43.6 629.5Z M91.7 634.6L98.3 642.7L91.7 650.8L85.1 642.7Z M133.2 621.4L139.8 629.5L133.2 637.6L126.6 629.5Z M174.7 630.2L181.3 638.3L174.7 646.4L168.1 638.3Z M216.2 639.0L222.8 647.1L216.2 655.2L209.6 647.1Z M257.7 607.3L264.3 615.4L257.7 623.5L251.1 615.4Z M299.2 606.4L305.8 614.5L299.2 622.6L292.6 614.5Z M340.7 603.8L347.3 611.9L340.7 620.0L334.1 611.9Z M382.3 604.7L388.9 612.8L382.3 620.9L375.7 612.8Z M423.8 603.8L430.4 611.9L423.8 620.0L417.2 611.9Z M465.3 613.5L471.9 621.6L465.3 629.7L458.7 621.6Z M506.8 599.4L513.4 607.5L506.8 615.6L500.2 607.5Z M548.3 610.8L554.9 618.9L548.3 627.0L541.7 618.9Z M589.8 612.6L596.4 620.7L589.8 628.8L583.2 620.7Z M631.3 602.9L637.9 611.0L631.3 619.1L624.7 611.0Z M672.8 599.4L679.4 607.5L672.8 615.6L666.2 607.5Z" fill="#0000FF"/><polyline points="50.2,653.3 91.7,633.9 133.2,648.0 174.7,653.3 216.2,655.9 257.7,611.9 299.2,607.5 340.7,610.1 382.3,603.1 423.8,607.5 465.3,611.9 506.8,610.1 548.3,613.7 589.8,616.3 631.3,604.8 672.8,603.1" fill="none" stroke="#0000FF" stroke-width="4.2" stroke-linejoin="round"/><path d="M50.2 645.2L56.8 653.3L50.2 661.4L43.6 653.3Z M91.7 625.8L98.3 633.9L91.7 642.0L85.1 633.9Z M133.2 639.9L139.8 648.0L133.2 656.1L126.6 648.0Z M174.7 645.2L181.3 653.3L174.7 661.4L168.1 653.3Z M216.2 647.8L222.8 655.9L216.2 664.0L209.6 655.9Z M257.7 603.8L264.3 611.9L257.7 620.0L251.1 611.9Z M299.2 599.4L305.8 607.5L299.2 615.6L292.6 607.5Z M340.7 602.0L347.3 610.1L340.7 618.2L334.1 610.1Z M382.3 595.0L388.9 603.1L382.3 611.2L375.7 603.1Z M423.8 599.4L430.4 607.5L423.8 615.6L417.2 607.5Z M465.3 603.8L471.9 611.9L465.3 620.0L458.7 611.9Z M506.8 602.0L513.4 610.1L506.8 618.2L500.2 610.1Z M548.3 605.6L554.9 613.7L548.3 621.8L541.7 613.7Z M589.8 608.2L596.4 616.3L589.8 624.4L583.2 616.3Z M631.3 596.7L637.9 604.8L631.3 612.9L624.7 604.8Z M672.8 595.0L679.4 603.1L672.8 611.2L666.2 603.1Z" fill="#0000FF"/></g>
<text x="67.3" y="523.4" font-size="14" font-weight="bold" textLength="67.7" lengthAdjust="spacingAndGlyphs">Threshold</text>
<path d="M70 413.8H118.2" stroke="#FF0000" stroke-width="4.1"/><circle cx="93.6" cy="413.8" r="7.0" fill="#FF0000"/>
<path d="M70 444.2H118.2" stroke="#0000FF" stroke-width="4.1"/><path d="M93.0 436.3L99.2 444.2L93.0 452.1L86.8 444.2Z" fill="#0000FF"/>
<text x="126" y="418.4" font-size="14" font-weight="bold" textLength="149.5" lengthAdjust="spacingAndGlyphs">Symptomatic subjects</text>
<text x="125.4" y="449" font-size="14" font-weight="bold" textLength="158" lengthAdjust="spacingAndGlyphs">Asymptomatic subjects</text></g>
<g id="panelC"><rect x="54.4" y="757.4" width="171.3" height="85.3" fill="#fff" stroke="#1c1c1c" stroke-width="1.25"/>
<path d="M65.8 842.7v-1.8M65.8 757.4v1.8 M88.7 842.7v-1.8M88.7 757.4v1.8 M111.5 842.7v-1.8M111.5 757.4v1.8 M134.3 842.7v-1.8M134.3 757.4v1.8 M157.2 842.7v-1.8M157.2 757.4v1.8 M180.0 842.7v-1.8M180.0 757.4v1.8 M202.9 842.7v-1.8M202.9 757.4v1.8 M54.4 825.6h1.8M225.7 825.6h-1.8 M54.4 808.6h1.8M225.7 808.6h-1.8 M54.4 791.5h1.8M225.7 791.5h-1.8 M54.4 774.5h1.8M225.7 774.5h-1.8" stroke="#111" stroke-width="0.9"/>
<text transform="translate(52.5 846.9) scale(1.05 1)" font-size="9.65" text-anchor="end">100</text>
<text transform="translate(52.5 829.8) scale(1.05 1)" font-size="9.65" text-anchor="end">150</text>
<text transform="translate(52.5 812.8) scale(1.05 1)" font-size="9.65" text-anchor="end">200</text>
<text transform="translate(52.5 795.7) scale(1.05 1)" font-size="9.65" text-anchor="end">250</text>
<text transform="translate(52.5 778.7) scale(1.05 1)" font-size="9.65" text-anchor="end">300</text>
<text transform="translate(52.5 761.6) scale(1.05 1)" font-size="9.65" text-anchor="end">350</text>
<text transform="translate(63.7 856.2) scale(1.05 1)" font-size="9.65" text-anchor="middle">0</text>
<text transform="translate(86.6 856.2) scale(1.05 1)" font-size="9.65" text-anchor="middle">12</text>
<text transform="translate(109.4 856.2) scale(1.05 1)" font-size="9.65" text-anchor="middle">29</text>
<text transform="translate(132.2 856.2) scale(1.05 1)" font-size="9.65" text-anchor="middle">45</text>
<text transform="translate(155.1 856.2) scale(1.05 1)" font-size="9.65" text-anchor="middle">60</text>
<text transform="translate(177.9 856.2) scale(1.05 1)" font-size="9.65" text-anchor="middle">77</text>
<text transform="translate(200.8 856.2) scale(1.05 1)" font-size="9.65" text-anchor="middle">93</text>
<text transform="translate(223.6 856.2) scale(1.05 1)" font-size="9.65" text-anchor="middle">108</text>
<text x="229.7" y="867.0" font-size="10.3" text-anchor="end">Hours</text>
<text transform="translate(28.4 803.2) rotate(-90)" font-size="10.6" text-anchor="middle" textLength="49.6" lengthAdjust="spacingAndGlyphs">SNE score</text>
<polyline points="54.4,830.8 65.8,826.6 77.2,834.5 88.7,827.8 100.1,841.8 111.5,767.2 122.9,782.7 134.3,784.8 145.8,802.8 157.2,799.7 168.6,815.6 180.0,811.0 191.4,800.0 202.9,809.5 214.3,811.0 225.7,800.0" fill="none" stroke="#FF0000" stroke-width="1.75" stroke-linejoin="round"/>
<circle cx="54.4" cy="830.8" r="2.4" fill="#FF0000"/>
<circle cx="65.8" cy="826.6" r="2.4" fill="#FF0000"/>
<circle cx="77.2" cy="834.5" r="2.4" fill="#FF0000"/>
<circle cx="88.7" cy="827.8" r="2.4" fill="#FF0000"/>
<circle cx="100.1" cy="841.8" r="2.4" fill="#FF0000"/>
<circle cx="111.5" cy="767.2" r="2.4" fill="#FF0000"/>
<circle cx="122.9" cy="782.7" r="2.4" fill="#FF0000"/>
<circle cx="134.3" cy="784.8" r="2.4" fill="#FF0000"/>
<circle cx="145.8" cy="802.8" r="2.4" fill="#FF0000"/>
<circle cx="157.2" cy="799.7" r="2.4" fill="#FF0000"/>
<circle cx="168.6" cy="815.6" r="2.4" fill="#FF0000"/>
<circle cx="180.0" cy="811.0" r="2.4" fill="#FF0000"/>
<circle cx="191.4" cy="800.0" r="2.4" fill="#FF0000"/>
<circle cx="202.9" cy="809.5" r="2.4" fill="#FF0000"/>
<circle cx="214.3" cy="811.0" r="2.4" fill="#FF0000"/>
<circle cx="225.7" cy="800.0" r="2.4" fill="#FF0000"/>
<circle cx="134.3" cy="784.8" r="3.4" fill="none" stroke="#1010FF" stroke-width="1.15"/>
<polygon points="111.50,762.26 112.68,765.74 116.35,765.78 113.40,767.98 114.50,771.48 111.50,769.36 108.50,771.48 109.60,767.98 106.65,765.78 110.32,765.74" fill="rgba(255,0,255,0.15)" stroke="#FF00FF" stroke-width="1.05" stroke-linejoin="miter"/>
<rect x="278.9" y="757.4" width="170.8" height="85.3" fill="#fff" stroke="#1c1c1c" stroke-width="1.25"/>
<path d="M290.3 842.7v-1.8M290.3 757.4v1.8 M313.1 842.7v-1.8M313.1 757.4v1.8 M335.8 842.7v-1.8M335.8 757.4v1.8 M358.6 842.7v-1.8M358.6 757.4v1.8 M381.4 842.7v-1.8M381.4 757.4v1.8 M404.2 842.7v-1.8M404.2 757.4v1.8 M426.9 842.7v-1.8M426.9 757.4v1.8 M278.9 821.4h1.8M449.7 821.4h-1.8 M278.9 800.0h1.8M449.7 800.0h-1.8 M278.9 778.7h1.8M449.7 778.7h-1.8" stroke="#111" stroke-width="0.9"/>
<text transform="translate(277.0 846.9) scale(1.05 1)" font-size="9.65" text-anchor="end">100</text>
<text transform="translate(277.0 825.6) scale(1.05 1)" font-size="9.65" text-anchor="end">150</text>
<text transform="translate(277.0 804.2) scale(1.05 1)" font-size="9.65" text-anchor="end">200</text>
<text transform="translate(277.0 782.9) scale(1.05 1)" font-size="9.65" text-anchor="end">250</text>
<text transform="translate(277.0 761.6) scale(1.05 1)" font-size="9.65" text-anchor="end">300</text>
<text transform="translate(291.1 856.2) scale(1.05 1)" font-size="9.65" text-anchor="middle">0</text>
<text transform="translate(313.9 856.2) scale(1.05 1)" font-size="9.65" text-anchor="middle">12</text>
<text transform="translate(336.6 856.2) scale(1.05 1)" font-size="9.65" text-anchor="middle">29</text>
<text transform="translate(359.4 856.2) scale(1.05 1)" font-size="9.65" text-anchor="middle">45</text>
<text transform="translate(382.2 856.2) scale(1.05 1)" font-size="9.65" text-anchor="middle">60</text>
<text transform="translate(405.0 856.2) scale(1.05 1)" font-size="9.65" text-anchor="middle">77</text>
<text transform="translate(427.7 856.2) scale(1.05 1)" font-size="9.65" text-anchor="middle">93</text>
<text transform="translate(450.5 856.2) scale(1.05 1)" font-size="9.65" text-anchor="middle">108</text>
<text x="457.3" y="867.0" font-size="10.3" text-anchor="end">Hours</text>
<text transform="translate(255.8 799.3) rotate(-90)" font-size="10.6" text-anchor="middle" textLength="49.6" lengthAdjust="spacingAndGlyphs">SNE score</text>
<polyline points="278.9,837.6 290.3,825.1 301.7,837.3 313.1,841.0 324.4,832.9 335.8,814.9 347.2,821.4 358.6,788.5 370.0,768.2 381.4,778.4 392.8,795.3 404.2,801.8 415.5,775.7 426.9,789.9 438.3,794.3 449.7,785.2" fill="none" stroke="#FF0000" stroke-width="1.75" stroke-linejoin="round"/>
<circle cx="278.9" cy="837.6" r="2.4" fill="#FF0000"/>
<circle cx="290.3" cy="825.1" r="2.4" fill="#FF0000"/>
<circle cx="301.7" cy="837.3" r="2.4" fill="#FF0000"/>
<circle cx="313.1" cy="841.0" r="2.4" fill="#FF0000"/>
<circle cx="324.4" cy="832.9" r="2.4" fill="#FF0000"/>
<circle cx="335.8" cy="814.9" r="2.4" fill="#FF0000"/>
<circle cx="347.2" cy="821.4" r="2.4" fill="#FF0000"/>
<circle cx="358.6" cy="788.5" r="2.4" fill="#FF0000"/>
<circle cx="370.0" cy="768.2" r="2.4" fill="#FF0000"/>
<circle cx="381.4" cy="778.4" r="2.4" fill="#FF0000"/>
<circle cx="392.8" cy="795.3" r="2.4" fill="#FF0000"/>
<circle cx="404.2" cy="801.8" r="2.4" fill="#FF0000"/>
<circle cx="415.5" cy="775.7" r="2.4" fill="#FF0000"/>
<circle cx="426.9" cy="789.9" r="2.4" fill="#FF0000"/>
<circle cx="438.3" cy="794.3" r="2.4" fill="#FF0000"/>
<circle cx="449.7" cy="785.2" r="2.4" fill="#FF0000"/>
<circle cx="358.6" cy="788.5" r="3.4" fill="none" stroke="#1010FF" stroke-width="1.15"/>
<polygon points="358.61,783.63 359.78,787.12 363.46,787.16 360.51,789.35 361.60,792.86 358.61,790.73 355.61,792.86 356.70,789.35 353.76,787.16 357.43,787.12" fill="rgba(255,0,255,0.15)" stroke="#FF00FF" stroke-width="1.05" stroke-linejoin="miter"/>
<rect x="503.5" y="757.4" width="171.2" height="85.3" fill="#fff" stroke="#1c1c1c" stroke-width="1.25"/>
<path d="M514.9 842.7v-1.8M514.9 757.4v1.8 M537.7 842.7v-1.8M537.7 757.4v1.8 M560.6 842.7v-1.8M560.6 757.4v1.8 M583.4 842.7v-1.8M583.4 757.4v1.8 M606.2 842.7v-1.8M606.2 757.4v1.8 M629.0 842.7v-1.8M629.0 757.4v1.8 M651.9 842.7v-1.8M651.9 757.4v1.8 M503.5 825.6h1.8M674.7 825.6h-1.8 M503.5 808.6h1.8M674.7 808.6h-1.8 M503.5 791.5h1.8M674.7 791.5h-1.8 M503.5 774.5h1.8M674.7 774.5h-1.8" stroke="#111" stroke-width="0.9"/>
<text transform="translate(501.6 846.9) scale(1.05 1)" font-size="9.65" text-anchor="end">100</text>
<text transform="translate(501.6 829.8) scale(1.05 1)" font-size="9.65" text-anchor="end">150</text>
<text transform="translate(501.6 812.8) scale(1.05 1)" font-size="9.65" text-anchor="end">200</text>
<text transform="translate(501.6 795.7) scale(1.05 1)" font-size="9.65" text-anchor="end">250</text>
<text transform="translate(501.6 778.7) scale(1.05 1)" font-size="9.65" text-anchor="end">300</text>
<text transform="translate(501.6 761.6) scale(1.05 1)" font-size="9.65" text-anchor="end">350</text>
<text transform="translate(516.2 856.2) scale(1.05 1)" font-size="9.65" text-anchor="middle">0</text>
<text transform="translate(539.0 856.2) scale(1.05 1)" font-size="9.65" text-anchor="middle">12</text>
<text transform="translate(561.9 856.2) scale(1.05 1)" font-size="9.65" text-anchor="middle">29</text>
<text transform="translate(584.7 856.2) scale(1.05 1)" font-size="9.65" text-anchor="middle">45</text>
<text transform="translate(607.5 856.2) scale(1.05 1)" font-size="9.65" text-anchor="middle">60</text>
<text transform="translate(630.3 856.2) scale(1.05 1)" font-size="9.65" text-anchor="middle">77</text>
<text transform="translate(653.2 856.2) scale(1.05 1)" font-size="9.65" text-anchor="middle">93</text>
<text transform="translate(676.0 856.2) scale(1.05 1)" font-size="9.65" text-anchor="middle">108</text>
<text x="682.6" y="867.0" font-size="10.3" text-anchor="end">Hours</text>
<text transform="translate(481.1 801.1) rotate(-90)" font-size="10.6" text-anchor="middle" textLength="57" lengthAdjust="spacingAndGlyphs">SCNE score</text>
<polyline points="503.5,841.7 514.9,830.7 526.3,826.5 537.7,838.5 549.2,840.8 560.6,799.6 572.0,769.7 583.4,778.1 594.8,790.8 606.2,806.4 617.6,811.5 629.0,806.7 640.5,803.8 651.9,807.4 663.3,808.0 674.7,790.5" fill="none" stroke="#FF0000" stroke-width="1.75" stroke-linejoin="round"/>
<circle cx="503.5" cy="841.7" r="2.4" fill="#FF0000"/>
<circle cx="514.9" cy="830.7" r="2.4" fill="#FF0000"/>
<circle cx="526.3" cy="826.5" r="2.4" fill="#FF0000"/>
<circle cx="537.7" cy="838.5" r="2.4" fill="#FF0000"/>
<circle cx="549.2" cy="840.8" r="2.4" fill="#FF0000"/>
<circle cx="560.6" cy="799.6" r="2.4" fill="#FF0000"/>
<circle cx="572.0" cy="769.7" r="2.4" fill="#FF0000"/>
<circle cx="583.4" cy="778.1" r="2.4" fill="#FF0000"/>
<circle cx="594.8" cy="790.8" r="2.4" fill="#FF0000"/>
<circle cx="606.2" cy="806.4" r="2.4" fill="#FF0000"/>
<circle cx="617.6" cy="811.5" r="2.4" fill="#FF0000"/>
<circle cx="629.0" cy="806.7" r="2.4" fill="#FF0000"/>
<circle cx="640.5" cy="803.8" r="2.4" fill="#FF0000"/>
<circle cx="651.9" cy="807.4" r="2.4" fill="#FF0000"/>
<circle cx="663.3" cy="808.0" r="2.4" fill="#FF0000"/>
<circle cx="674.7" cy="790.5" r="2.4" fill="#FF0000"/>
<circle cx="583.4" cy="778.1" r="3.4" fill="none" stroke="#1010FF" stroke-width="1.15"/>
<polygon points="560.57,794.67 561.74,798.15 565.42,798.20 562.47,800.39 563.56,803.90 560.57,801.77 557.57,803.90 558.66,800.39 555.72,798.20 559.39,798.15" fill="rgba(255,0,255,0.15)" stroke="#FF00FF" stroke-width="1.05" stroke-linejoin="miter"/>
<rect x="54.4" y="876.5" width="171.3" height="85.8" fill="#fff" stroke="#1c1c1c" stroke-width="1.25"/>
<path d="M65.8 962.3v-1.8M65.8 876.5v1.8 M88.7 962.3v-1.8M88.7 876.5v1.8 M111.5 962.3v-1.8M111.5 876.5v1.8 M134.3 962.3v-1.8M134.3 876.5v1.8 M157.2 962.3v-1.8M157.2 876.5v1.8 M180.0 962.3v-1.8M180.0 876.5v1.8 M202.9 962.3v-1.8M202.9 876.5v1.8 M54.4 945.1h1.8M225.7 945.1h-1.8 M54.4 928.0h1.8M225.7 928.0h-1.8 M54.4 910.8h1.8M225.7 910.8h-1.8 M54.4 893.7h1.8M225.7 893.7h-1.8" stroke="#111" stroke-width="0.9"/>
<text transform="translate(52.5 967.1) scale(1.05 1)" font-size="9.65" text-anchor="end">100</text>
<text transform="translate(52.5 949.9) scale(1.05 1)" font-size="9.65" text-anchor="end">150</text>
<text transform="translate(52.5 932.8) scale(1.05 1)" font-size="9.65" text-anchor="end">200</text>
<text transform="translate(52.5 915.6) scale(1.05 1)" font-size="9.65" text-anchor="end">250</text>
<text transform="translate(52.5 898.5) scale(1.05 1)" font-size="9.65" text-anchor="end">300</text>
<text transform="translate(52.5 881.3) scale(1.05 1)" font-size="9.65" text-anchor="end">350</text>
<text transform="translate(63.7 975.8) scale(1.05 1)" font-size="9.65" text-anchor="middle">0</text>
<text transform="translate(86.6 975.8) scale(1.05 1)" font-size="9.65" text-anchor="middle">12</text>
<text transform="translate(109.4 975.8) scale(1.05 1)" font-size="9.65" text-anchor="middle">29</text>
<text transform="translate(132.2 975.8) scale(1.05 1)" font-size="9.65" text-anchor="middle">45</text>
<text transform="translate(155.1 975.8) scale(1.05 1)" font-size="9.65" text-anchor="middle">60</text>
<text transform="translate(177.9 975.8) scale(1.05 1)" font-size="9.65" text-anchor="middle">77</text>
<text transform="translate(200.8 975.8) scale(1.05 1)" font-size="9.65" text-anchor="middle">93</text>
<text transform="translate(223.6 975.8) scale(1.05 1)" font-size="9.65" text-anchor="middle">108</text>
<text x="229.7" y="986.6" font-size="10.3" text-anchor="end">Hours</text>
<text transform="translate(30.1 916.5) rotate(-90)" font-size="10.6" text-anchor="middle" textLength="49.6" lengthAdjust="spacingAndGlyphs">SNE score</text>
<polyline points="54.4,960.4 65.8,948.5 77.2,950.4 88.7,959.2 100.1,956.2 111.5,938.7 122.9,937.8 134.3,880.8 145.8,886.3 157.2,905.3 168.6,912.4 180.0,934.1 191.4,921.3 202.9,938.1 214.3,932.9 225.7,928.0" fill="none" stroke="#FF0000" stroke-width="1.75" stroke-linejoin="round"/>
<circle cx="54.4" cy="960.4" r="2.4" fill="#FF0000"/>
<circle cx="65.8" cy="948.5" r="2.4" fill="#FF0000"/>
<circle cx="77.2" cy="950.4" r="2.4" fill="#FF0000"/>
<circle cx="88.7" cy="959.2" r="2.4" fill="#FF0000"/>
<circle cx="100.1" cy="956.2" r="2.4" fill="#FF0000"/>
<circle cx="111.5" cy="938.7" r="2.4" fill="#FF0000"/>
<circle cx="122.9" cy="937.8" r="2.4" fill="#FF0000"/>
<circle cx="134.3" cy="880.8" r="2.4" fill="#FF0000"/>
<circle cx="145.8" cy="886.3" r="2.4" fill="#FF0000"/>
<circle cx="157.2" cy="905.3" r="2.4" fill="#FF0000"/>
<circle cx="168.6" cy="912.4" r="2.4" fill="#FF0000"/>
<circle cx="180.0" cy="934.1" r="2.4" fill="#FF0000"/>
<circle cx="191.4" cy="921.3" r="2.4" fill="#FF0000"/>
<circle cx="202.9" cy="938.1" r="2.4" fill="#FF0000"/>
<circle cx="214.3" cy="932.9" r="2.4" fill="#FF0000"/>
<circle cx="225.7" cy="928.0" r="2.4" fill="#FF0000"/>
<circle cx="134.3" cy="880.8" r="3.4" fill="none" stroke="#1010FF" stroke-width="1.15"/>
<polygon points="134.34,875.89 135.52,879.37 139.19,879.41 136.24,881.61 137.34,885.12 134.34,882.99 131.34,885.12 132.44,881.61 129.49,879.41 133.16,879.37" fill="rgba(255,0,255,0.15)" stroke="#FF00FF" stroke-width="1.05" stroke-linejoin="miter"/>
<rect x="278.9" y="876.5" width="170.8" height="85.8" fill="#fff" stroke="#1c1c1c" stroke-width="1.25"/>
<path d="M290.3 962.3v-1.8M290.3 876.5v1.8 M313.1 962.3v-1.8M313.1 876.5v1.8 M335.8 962.3v-1.8M335.8 876.5v1.8 M358.6 962.3v-1.8M358.6 876.5v1.8 M381.4 962.3v-1.8M381.4 876.5v1.8 M404.2 962.3v-1.8M404.2 876.5v1.8 M426.9 962.3v-1.8M426.9 876.5v1.8 M278.9 945.1h1.8M449.7 945.1h-1.8 M278.9 928.0h1.8M449.7 928.0h-1.8 M278.9 910.8h1.8M449.7 910.8h-1.8 M278.9 893.7h1.8M449.7 893.7h-1.8" stroke="#111" stroke-width="0.9"/>
<text transform="translate(277.0 967.1) scale(1.05 1)" font-size="9.65" text-anchor="end">100</text>
<text transform="translate(277.0 949.9) scale(1.05 1)" font-size="9.65" text-anchor="end">150</text>
<text transform="translate(277.0 932.8) scale(1.05 1)" font-size="9.65" text-anchor="end">200</text>
<text transform="translate(277.0 915.6) scale(1.05 1)" font-size="9.65" text-anchor="end">250</text>
<text transform="translate(277.0 898.5) scale(1.05 1)" font-size="9.65" text-anchor="end">300</text>
<text transform="translate(277.0 881.3) scale(1.05 1)" font-size="9.65" text-anchor="end">350</text>
<text transform="translate(291.1 975.8) scale(1.05 1)" font-size="9.65" text-anchor="middle">0</text>
<text transform="translate(313.9 975.8) scale(1.05 1)" font-size="9.65" text-anchor="middle">12</text>
<text transform="translate(336.6 975.8) scale(1.05 1)" font-size="9.65" text-anchor="middle">29</text>
<text transform="translate(359.4 975.8) scale(1.05 1)" font-size="9.65" text-anchor="middle">45</text>
<text transform="translate(382.2 975.8) scale(1.05 1)" font-size="9.65" text-anchor="middle">60</text>
<text transform="translate(405.0 975.8) scale(1.05 1)" font-size="9.65" text-anchor="middle">77</text>
<text transform="translate(427.7 975.8) scale(1.05 1)" font-size="9.65" text-anchor="middle">93</text>
<text transform="translate(450.5 975.8) scale(1.05 1)" font-size="9.65" text-anchor="middle">108</text>
<text x="457.3" y="986.6" font-size="10.3" text-anchor="end">Hours</text>
<text transform="translate(256.6 918.8) rotate(-90)" font-size="10.6" text-anchor="middle" textLength="49.6" lengthAdjust="spacingAndGlyphs">SNE score</text>
<polyline points="278.9,953.5 290.3,955.9 301.7,961.6 313.1,957.9 324.4,949.2 335.8,938.4 347.2,939.8 358.6,928.3 370.0,890.3 381.4,882.2 392.8,886.9 404.2,889.6 415.5,901.1 426.9,898.4 438.3,884.2 449.7,908.5" fill="none" stroke="#FF0000" stroke-width="1.75" stroke-linejoin="round"/>
<circle cx="278.9" cy="953.5" r="2.4" fill="#FF0000"/>
<circle cx="290.3" cy="955.9" r="2.4" fill="#FF0000"/>
<circle cx="301.7" cy="961.6" r="2.4" fill="#FF0000"/>
<circle cx="313.1" cy="957.9" r="2.4" fill="#FF0000"/>
<circle cx="324.4" cy="949.2" r="2.4" fill="#FF0000"/>
<circle cx="335.8" cy="938.4" r="2.4" fill="#FF0000"/>
<circle cx="347.2" cy="939.8" r="2.4" fill="#FF0000"/>
<circle cx="358.6" cy="928.3" r="2.4" fill="#FF0000"/>
<circle cx="370.0" cy="890.3" r="2.4" fill="#FF0000"/>
<circle cx="381.4" cy="882.2" r="2.4" fill="#FF0000"/>
<circle cx="392.8" cy="886.9" r="2.4" fill="#FF0000"/>
<circle cx="404.2" cy="889.6" r="2.4" fill="#FF0000"/>
<circle cx="415.5" cy="901.1" r="2.4" fill="#FF0000"/>
<circle cx="426.9" cy="898.4" r="2.4" fill="#FF0000"/>
<circle cx="438.3" cy="884.2" r="2.4" fill="#FF0000"/>
<circle cx="449.7" cy="908.5" r="2.4" fill="#FF0000"/>
<circle cx="392.8" cy="886.9" r="3.4" fill="none" stroke="#1010FF" stroke-width="1.15"/>
<polygon points="369.99,885.40 371.17,888.88 374.84,888.92 371.90,891.11 372.99,894.62 369.99,892.50 367.00,894.62 368.09,891.11 365.14,888.92 368.82,888.88" fill="rgba(255,0,255,0.15)" stroke="#FF00FF" stroke-width="1.05" stroke-linejoin="miter"/>
<rect x="503.5" y="876.5" width="171.2" height="85.8" fill="#fff" stroke="#1c1c1c" stroke-width="1.25"/>
<path d="M514.9 962.3v-1.8M514.9 876.5v1.8 M537.7 962.3v-1.8M537.7 876.5v1.8 M560.6 962.3v-1.8M560.6 876.5v1.8 M583.4 962.3v-1.8M583.4 876.5v1.8 M606.2 962.3v-1.8M606.2 876.5v1.8 M629.0 962.3v-1.8M629.0 876.5v1.8 M651.9 962.3v-1.8M651.9 876.5v1.8 M503.5 940.8h1.8M674.7 940.8h-1.8 M503.5 919.4h1.8M674.7 919.4h-1.8 M503.5 898.0h1.8M674.7 898.0h-1.8" stroke="#111" stroke-width="0.9"/>
<text transform="translate(501.6 967.1) scale(1.05 1)" font-size="9.65" text-anchor="end">100</text>
<text transform="translate(501.6 945.6) scale(1.05 1)" font-size="9.65" text-anchor="end">150</text>
<text transform="translate(501.6 924.2) scale(1.05 1)" font-size="9.65" text-anchor="end">200</text>
<text transform="translate(501.6 902.8) scale(1.05 1)" font-size="9.65" text-anchor="end">250</text>
<text transform="translate(501.6 881.3) scale(1.05 1)" font-size="9.65" text-anchor="end">300</text>
<text transform="translate(516.2 975.8) scale(1.05 1)" font-size="9.65" text-anchor="middle">0</text>
<text transform="translate(539.0 975.8) scale(1.05 1)" font-size="9.65" text-anchor="middle">12</text>
<text transform="translate(561.9 975.8) scale(1.05 1)" font-size="9.65" text-anchor="middle">29</text>
<text transform="translate(584.7 975.8) scale(1.05 1)" font-size="9.65" text-anchor="middle">45</text>
<text transform="translate(607.5 975.8) scale(1.05 1)" font-size="9.65" text-anchor="middle">60</text>
<text transform="translate(630.3 975.8) scale(1.05 1)" font-size="9.65" text-anchor="middle">77</text>
<text transform="translate(653.2 975.8) scale(1.05 1)" font-size="9.65" text-anchor="middle">93</text>
<text transform="translate(676.0 975.8) scale(1.05 1)" font-size="9.65" text-anchor="middle">108</text>
<text x="682.6" y="986.6" font-size="10.3" text-anchor="end">Hours</text>
<text transform="translate(482.2 917.4) rotate(-90)" font-size="10.6" text-anchor="middle" textLength="49.6" lengthAdjust="spacingAndGlyphs">SNE score</text>
<polyline points="503.5,959.1 514.9,947.7 526.3,948.7 537.7,947.7 549.2,949.7 560.6,931.5 572.0,940.9 583.4,936.4 594.8,930.6 606.2,919.2 617.6,905.3 629.0,901.4 640.5,901.1 651.9,905.3 663.3,910.8 674.7,893.0" fill="none" stroke="#FF0000" stroke-width="1.75" stroke-linejoin="round"/>
<circle cx="503.5" cy="959.1" r="2.4" fill="#FF0000"/>
<circle cx="514.9" cy="947.7" r="2.4" fill="#FF0000"/>
<circle cx="526.3" cy="948.7" r="2.4" fill="#FF0000"/>
<circle cx="537.7" cy="947.7" r="2.4" fill="#FF0000"/>
<circle cx="549.2" cy="949.7" r="2.4" fill="#FF0000"/>
<circle cx="560.6" cy="931.5" r="2.4" fill="#FF0000"/>
<circle cx="572.0" cy="940.9" r="2.4" fill="#FF0000"/>
<circle cx="583.4" cy="936.4" r="2.4" fill="#FF0000"/>
<circle cx="594.8" cy="930.6" r="2.4" fill="#FF0000"/>
<circle cx="606.2" cy="919.2" r="2.4" fill="#FF0000"/>
<circle cx="617.6" cy="905.3" r="2.4" fill="#FF0000"/>
<circle cx="629.0" cy="901.4" r="2.4" fill="#FF0000"/>
<circle cx="640.5" cy="901.1" r="2.4" fill="#FF0000"/>
<circle cx="651.9" cy="905.3" r="2.4" fill="#FF0000"/>
<circle cx="663.3" cy="910.8" r="2.4" fill="#FF0000"/>
<circle cx="674.7" cy="893.0" r="2.4" fill="#FF0000"/>
<circle cx="629.0" cy="901.4" r="3.4" fill="none" stroke="#1010FF" stroke-width="1.15"/>
<polygon points="617.63,900.43 618.81,903.91 622.48,903.95 619.54,906.15 620.63,909.65 617.63,907.53 614.64,909.65 615.73,906.15 612.78,903.95 616.46,903.91" fill="rgba(255,0,255,0.15)" stroke="#FF00FF" stroke-width="1.05" stroke-linejoin="miter"/>
<rect x="54.4" y="996.2" width="171.3" height="86.3" fill="#fff" stroke="#1c1c1c" stroke-width="1.25"/>
<path d="M65.8 1082.5v-1.8M65.8 996.2v1.8 M88.7 1082.5v-1.8M88.7 996.2v1.8 M111.5 1082.5v-1.8M111.5 996.2v1.8 M134.3 1082.5v-1.8M134.3 996.2v1.8 M157.2 1082.5v-1.8M157.2 996.2v1.8 M180.0 1082.5v-1.8M180.0 996.2v1.8 M202.9 1082.5v-1.8M202.9 996.2v1.8 M54.4 1060.9h1.8M225.7 1060.9h-1.8 M54.4 1039.3h1.8M225.7 1039.3h-1.8 M54.4 1017.8h1.8M225.7 1017.8h-1.8" stroke="#111" stroke-width="0.9"/>
<text transform="translate(52.5 1087.3) scale(1.05 1)" font-size="9.65" text-anchor="end">0</text>
<text transform="translate(52.5 1065.7) scale(1.05 1)" font-size="9.65" text-anchor="end">100</text>
<text transform="translate(52.5 1044.1) scale(1.05 1)" font-size="9.65" text-anchor="end">200</text>
<text transform="translate(52.5 1022.6) scale(1.05 1)" font-size="9.65" text-anchor="end">300</text>
<text transform="translate(52.5 1001.0) scale(1.05 1)" font-size="9.65" text-anchor="end">400</text>
<text transform="translate(63.7 1096.0) scale(1.05 1)" font-size="9.65" text-anchor="middle">0</text>
<text transform="translate(86.6 1096.0) scale(1.05 1)" font-size="9.65" text-anchor="middle">12</text>
<text transform="translate(109.4 1096.0) scale(1.05 1)" font-size="9.65" text-anchor="middle">29</text>
<text transform="translate(132.2 1096.0) scale(1.05 1)" font-size="9.65" text-anchor="middle">45</text>
<text transform="translate(155.1 1096.0) scale(1.05 1)" font-size="9.65" text-anchor="middle">60</text>
<text transform="translate(177.9 1096.0) scale(1.05 1)" font-size="9.65" text-anchor="middle">77</text>
<text transform="translate(200.8 1096.0) scale(1.05 1)" font-size="9.65" text-anchor="middle">93</text>
<text transform="translate(223.6 1096.0) scale(1.05 1)" font-size="9.65" text-anchor="middle">108</text>
<text x="229.7" y="1106.8" font-size="10.3" text-anchor="end">Hours</text>
<text transform="translate(30.1 1030.9) rotate(-90)" font-size="10.6" text-anchor="middle" textLength="49.6" lengthAdjust="spacingAndGlyphs">SNE score</text>
<polyline points="54.4,1062.0 65.8,1050.1 77.2,1052.8 88.7,1057.1 100.1,1049.7 111.5,1043.6 122.9,1042.1 134.3,1021.6 145.8,1010.6 157.2,1005.1 168.6,1021.3 180.0,1030.5 191.4,1033.5 202.9,1038.1 214.3,1036.9 225.7,1035.4" fill="none" stroke="#FF0000" stroke-width="1.75" stroke-linejoin="round"/>
<circle cx="54.4" cy="1062.0" r="2.4" fill="#FF0000"/>
<circle cx="65.8" cy="1050.1" r="2.4" fill="#FF0000"/>
<circle cx="77.2" cy="1052.8" r="2.4" fill="#FF0000"/>
<circle cx="88.7" cy="1057.1" r="2.4" fill="#FF0000"/>
<circle cx="100.1" cy="1049.7" r="2.4" fill="#FF0000"/>
<circle cx="111.5" cy="1043.6" r="2.4" fill="#FF0000"/>
<circle cx="122.9" cy="1042.1" r="2.4" fill="#FF0000"/>
<circle cx="134.3" cy="1021.6" r="2.4" fill="#FF0000"/>
<circle cx="145.8" cy="1010.6" r="2.4" fill="#FF0000"/>
<circle cx="157.2" cy="1005.1" r="2.4" fill="#FF0000"/>
<circle cx="168.6" cy="1021.3" r="2.4" fill="#FF0000"/>
<circle cx="180.0" cy="1030.5" r="2.4" fill="#FF0000"/>
<circle cx="191.4" cy="1033.5" r="2.4" fill="#FF0000"/>
<circle cx="202.9" cy="1038.1" r="2.4" fill="#FF0000"/>
<circle cx="214.3" cy="1036.9" r="2.4" fill="#FF0000"/>
<circle cx="225.7" cy="1035.4" r="2.4" fill="#FF0000"/>
<circle cx="202.9" cy="1038.1" r="3.4" fill="none" stroke="#1010FF" stroke-width="1.15"/>
<polygon points="134.34,1016.69 135.52,1020.18 139.19,1020.22 136.24,1022.41 137.34,1025.92 134.34,1023.79 131.34,1025.92 132.44,1022.41 129.49,1020.22 133.16,1020.18" fill="rgba(255,0,255,0.15)" stroke="#FF00FF" stroke-width="1.05" stroke-linejoin="miter"/>
<rect x="278.9" y="996.2" width="170.8" height="86.3" fill="#fff" stroke="#1c1c1c" stroke-width="1.25"/>
<path d="M290.3 1082.5v-1.8M290.3 996.2v1.8 M313.1 1082.5v-1.8M313.1 996.2v1.8 M335.8 1082.5v-1.8M335.8 996.2v1.8 M358.6 1082.5v-1.8M358.6 996.2v1.8 M381.4 1082.5v-1.8M381.4 996.2v1.8 M404.2 1082.5v-1.8M404.2 996.2v1.8 M426.9 1082.5v-1.8M426.9 996.2v1.8 M278.9 1065.2h1.8M449.7 1065.2h-1.8 M278.9 1048.0h1.8M449.7 1048.0h-1.8 M278.9 1030.7h1.8M449.7 1030.7h-1.8 M278.9 1013.5h1.8M449.7 1013.5h-1.8" stroke="#111" stroke-width="0.9"/>
<text transform="translate(277.0 1087.3) scale(1.05 1)" font-size="9.65" text-anchor="end">50</text>
<text transform="translate(277.0 1070.0) scale(1.05 1)" font-size="9.65" text-anchor="end">100</text>
<text transform="translate(277.0 1052.8) scale(1.05 1)" font-size="9.65" text-anchor="end">150</text>
<text transform="translate(277.0 1035.5) scale(1.05 1)" font-size="9.65" text-anchor="end">200</text>
<text transform="translate(277.0 1018.3) scale(1.05 1)" font-size="9.65" text-anchor="end">250</text>
<text transform="translate(277.0 1001.0) scale(1.05 1)" font-size="9.65" text-anchor="end">300</text>
<text transform="translate(291.1 1096.0) scale(1.05 1)" font-size="9.65" text-anchor="middle">0</text>
<text transform="translate(313.9 1096.0) scale(1.05 1)" font-size="9.65" text-anchor="middle">12</text>
<text transform="translate(336.6 1096.0) scale(1.05 1)" font-size="9.65" text-anchor="middle">29</text>
<text transform="translate(359.4 1096.0) scale(1.05 1)" font-size="9.65" text-anchor="middle">45</text>
<text transform="translate(382.2 1096.0) scale(1.05 1)" font-size="9.65" text-anchor="middle">60</text>
<text transform="translate(405.0 1096.0) scale(1.05 1)" font-size="9.65" text-anchor="middle">77</text>
<text transform="translate(427.7 1096.0) scale(1.05 1)" font-size="9.65" text-anchor="middle">93</text>
<text transform="translate(450.5 1096.0) scale(1.05 1)" font-size="9.65" text-anchor="middle">108</text>
<text x="457.3" y="1106.8" font-size="10.3" text-anchor="end">Hours</text>
<text transform="translate(255.4 1038.5) rotate(-90)" font-size="10.6" text-anchor="middle" textLength="49.6" lengthAdjust="spacingAndGlyphs">SNE score</text>
<polyline points="278.9,1050.5 290.3,1050.5 301.7,1056.9 313.1,1053.5 324.4,1075.5 335.8,1043.8 347.2,1041.2 358.6,1037.9 370.0,1040.2 381.4,1000.9 392.8,1016.5 404.2,1008.2 415.5,1015.5 426.9,1035.5 438.3,1034.9 449.7,1033.9" fill="none" stroke="#FF0000" stroke-width="1.75" stroke-linejoin="round"/>
<circle cx="278.9" cy="1050.5" r="2.4" fill="#FF0000"/>
<circle cx="290.3" cy="1050.5" r="2.4" fill="#FF0000"/>
<circle cx="301.7" cy="1056.9" r="2.4" fill="#FF0000"/>
<circle cx="313.1" cy="1053.5" r="2.4" fill="#FF0000"/>
<circle cx="324.4" cy="1075.5" r="2.4" fill="#FF0000"/>
<circle cx="335.8" cy="1043.8" r="2.4" fill="#FF0000"/>
<circle cx="347.2" cy="1041.2" r="2.4" fill="#FF0000"/>
<circle cx="358.6" cy="1037.9" r="2.4" fill="#FF0000"/>
<circle cx="370.0" cy="1040.2" r="2.4" fill="#FF0000"/>
<circle cx="381.4" cy="1000.9" r="2.4" fill="#FF0000"/>
<circle cx="392.8" cy="1016.5" r="2.4" fill="#FF0000"/>
<circle cx="404.2" cy="1008.2" r="2.4" fill="#FF0000"/>
<circle cx="415.5" cy="1015.5" r="2.4" fill="#FF0000"/>
<circle cx="426.9" cy="1035.5" r="2.4" fill="#FF0000"/>
<circle cx="438.3" cy="1034.9" r="2.4" fill="#FF0000"/>
<circle cx="449.7" cy="1033.9" r="2.4" fill="#FF0000"/>
<circle cx="438.3" cy="1034.9" r="3.4" fill="none" stroke="#1010FF" stroke-width="1.15"/>
<polygon points="381.38,995.96 382.56,999.44 386.23,999.48 383.28,1001.68 384.38,1005.19 381.38,1003.06 378.38,1005.19 379.48,1001.68 376.53,999.48 380.20,999.44" fill="rgba(255,0,255,0.15)" stroke="#FF00FF" stroke-width="1.05" stroke-linejoin="miter"/>
<rect x="503.5" y="996.2" width="171.2" height="86.3" fill="#fff" stroke="#1c1c1c" stroke-width="1.25"/>
<path d="M514.9 1082.5v-1.8M514.9 996.2v1.8 M537.7 1082.5v-1.8M537.7 996.2v1.8 M560.6 1082.5v-1.8M560.6 996.2v1.8 M583.4 1082.5v-1.8M583.4 996.2v1.8 M606.2 1082.5v-1.8M606.2 996.2v1.8 M629.0 1082.5v-1.8M629.0 996.2v1.8 M651.9 1082.5v-1.8M651.9 996.2v1.8 M503.5 1060.9h1.8M674.7 1060.9h-1.8 M503.5 1039.3h1.8M674.7 1039.3h-1.8 M503.5 1017.8h1.8M674.7 1017.8h-1.8" stroke="#111" stroke-width="0.9"/>
<text transform="translate(501.6 1087.3) scale(1.05 1)" font-size="9.65" text-anchor="end">50</text>
<text transform="translate(501.6 1065.7) scale(1.05 1)" font-size="9.65" text-anchor="end">100</text>
<text transform="translate(501.6 1044.1) scale(1.05 1)" font-size="9.65" text-anchor="end">150</text>
<text transform="translate(501.6 1022.6) scale(1.05 1)" font-size="9.65" text-anchor="end">200</text>
<text transform="translate(501.6 1001.0) scale(1.05 1)" font-size="9.65" text-anchor="end">250</text>
<text transform="translate(516.2 1096.0) scale(1.05 1)" font-size="9.65" text-anchor="middle">0</text>
<text transform="translate(539.0 1096.0) scale(1.05 1)" font-size="9.65" text-anchor="middle">12</text>
<text transform="translate(561.9 1096.0) scale(1.05 1)" font-size="9.65" text-anchor="middle">29</text>
<text transform="translate(584.7 1096.0) scale(1.05 1)" font-size="9.65" text-anchor="middle">45</text>
<text transform="translate(607.5 1096.0) scale(1.05 1)" font-size="9.65" text-anchor="middle">60</text>
<text transform="translate(630.3 1096.0) scale(1.05 1)" font-size="9.65" text-anchor="middle">77</text>
<text transform="translate(653.2 1096.0) scale(1.05 1)" font-size="9.65" text-anchor="middle">93</text>
<text transform="translate(676.0 1096.0) scale(1.05 1)" font-size="9.65" text-anchor="middle">108</text>
<text x="682.6" y="1106.8" font-size="10.3" text-anchor="end">Hours</text>
<text transform="translate(481.4 1039.6) rotate(-90)" font-size="10.6" text-anchor="middle" textLength="49.6" lengthAdjust="spacingAndGlyphs">SNE score</text>
<polyline points="503.5,1051.5 514.9,1047.3 526.3,1050.2 537.7,1048.9 549.2,1061.5 560.6,1033.1 572.0,1036.3 583.4,1028.2 594.8,1034.0 606.2,1033.4 617.6,1017.5 629.0,1000.1 640.5,1010.1 651.9,996.8 663.3,1016.2 674.7,1010.1" fill="none" stroke="#FF0000" stroke-width="1.75" stroke-linejoin="round"/>
<circle cx="503.5" cy="1051.5" r="2.4" fill="#FF0000"/>
<circle cx="514.9" cy="1047.3" r="2.4" fill="#FF0000"/>
<circle cx="526.3" cy="1050.2" r="2.4" fill="#FF0000"/>
<circle cx="537.7" cy="1048.9" r="2.4" fill="#FF0000"/>
<circle cx="549.2" cy="1061.5" r="2.4" fill="#FF0000"/>
<circle cx="560.6" cy="1033.1" r="2.4" fill="#FF0000"/>
<circle cx="572.0" cy="1036.3" r="2.4" fill="#FF0000"/>
<circle cx="583.4" cy="1028.2" r="2.4" fill="#FF0000"/>
<circle cx="594.8" cy="1034.0" r="2.4" fill="#FF0000"/>
<circle cx="606.2" cy="1033.4" r="2.4" fill="#FF0000"/>
<circle cx="617.6" cy="1017.5" r="2.4" fill="#FF0000"/>
<circle cx="629.0" cy="1000.1" r="2.4" fill="#FF0000"/>
<circle cx="640.5" cy="1010.1" r="2.4" fill="#FF0000"/>
<circle cx="651.9" cy="996.8" r="2.4" fill="#FF0000"/>
<circle cx="663.3" cy="1016.2" r="2.4" fill="#FF0000"/>
<circle cx="674.7" cy="1010.1" r="2.4" fill="#FF0000"/>
<circle cx="663.3" cy="1016.2" r="3.4" fill="none" stroke="#1010FF" stroke-width="1.15"/>
<polygon points="629.05,995.18 630.22,998.67 633.90,998.71 630.95,1000.90 632.04,1004.41 629.05,1002.28 626.05,1004.41 627.14,1000.90 624.20,998.71 627.87,998.67" fill="rgba(255,0,255,0.15)" stroke="#FF00FF" stroke-width="1.05" stroke-linejoin="miter"/>
<text x="0.8" y="757.6" font-size="23.4">C</text>
<polygon points="247.80,1097.30 250.15,1104.36 257.60,1104.42 251.60,1108.84 253.85,1115.93 247.80,1111.60 241.75,1115.93 244.00,1108.84 238.00,1104.42 245.45,1104.36" fill="none" stroke="#FF00FF" stroke-width="1.6"/>
<text x="262" y="1110" font-size="10.1" textLength="119.8" lengthAdjust="spacingAndGlyphs">SNE signal appearing time</text>
<circle cx="475.5" cy="1105.6" r="6.2" fill="none" stroke="#1F1FFF" stroke-width="1.6"/>
<text x="489.5" y="1109.4" font-size="10.1" textLength="112" lengthAdjust="spacingAndGlyphs">Symptom appearing time</text></g>
</svg>
</body></html>
